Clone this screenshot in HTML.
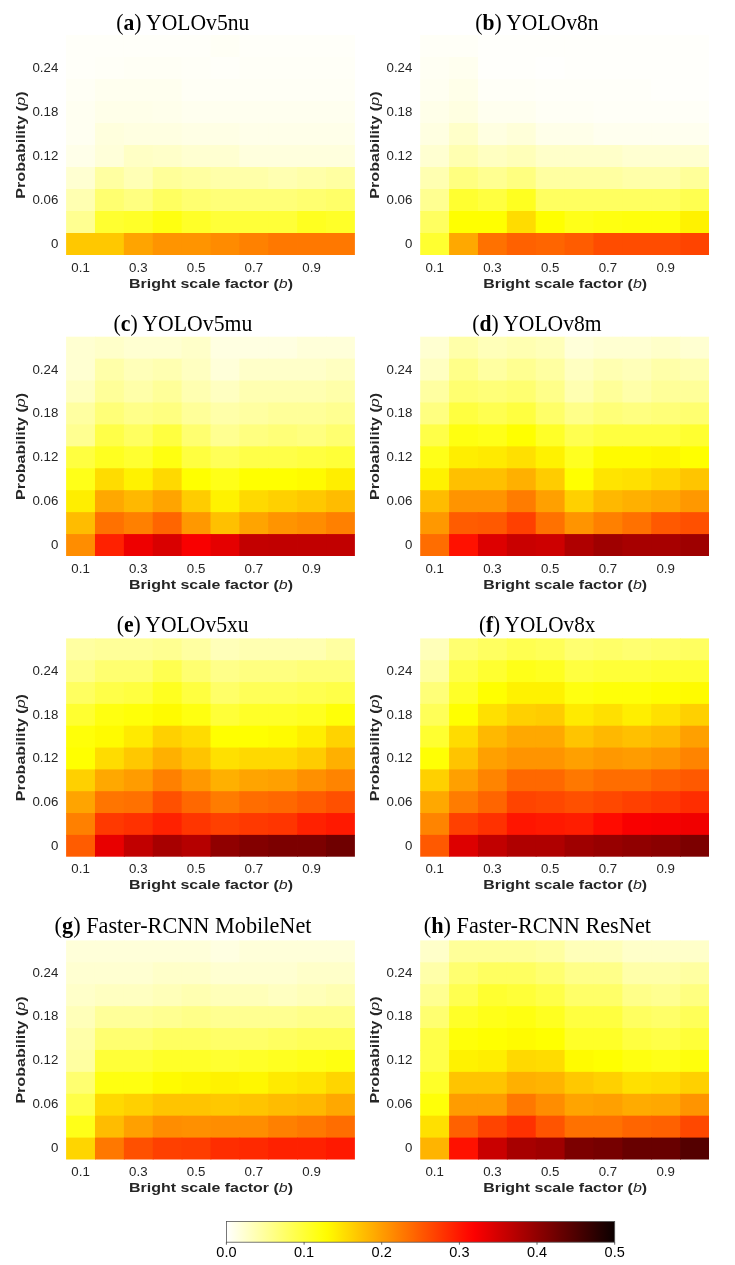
<!DOCTYPE html><html><head><meta charset="utf-8"><style>html,body{margin:0;padding:0;background:#fff;}svg{display:block;will-change:transform;}</style></head><body>
<svg width="735" height="1265" viewBox="0 0 735 1265">
<defs><linearGradient id="cb" x1="0" x2="1" y1="0" y2="0">
<stop offset="0.000" stop-color="#ffffff"/>
<stop offset="0.020" stop-color="#ffffeb"/>
<stop offset="0.040" stop-color="#ffffd7"/>
<stop offset="0.060" stop-color="#ffffc3"/>
<stop offset="0.080" stop-color="#ffffaf"/>
<stop offset="0.100" stop-color="#ffff9b"/>
<stop offset="0.120" stop-color="#ffff87"/>
<stop offset="0.140" stop-color="#ffff72"/>
<stop offset="0.160" stop-color="#ffff5e"/>
<stop offset="0.180" stop-color="#ffff4a"/>
<stop offset="0.200" stop-color="#ffff36"/>
<stop offset="0.220" stop-color="#ffff22"/>
<stop offset="0.240" stop-color="#ffff0e"/>
<stop offset="0.260" stop-color="#fffb00"/>
<stop offset="0.280" stop-color="#ffee00"/>
<stop offset="0.300" stop-color="#ffe000"/>
<stop offset="0.320" stop-color="#ffd300"/>
<stop offset="0.340" stop-color="#ffc500"/>
<stop offset="0.360" stop-color="#ffb800"/>
<stop offset="0.380" stop-color="#ffab00"/>
<stop offset="0.400" stop-color="#ff9d00"/>
<stop offset="0.420" stop-color="#ff9000"/>
<stop offset="0.440" stop-color="#ff8200"/>
<stop offset="0.460" stop-color="#ff7500"/>
<stop offset="0.480" stop-color="#ff6800"/>
<stop offset="0.500" stop-color="#ff5a00"/>
<stop offset="0.520" stop-color="#ff4d00"/>
<stop offset="0.540" stop-color="#ff4000"/>
<stop offset="0.560" stop-color="#ff3200"/>
<stop offset="0.580" stop-color="#ff2500"/>
<stop offset="0.600" stop-color="#ff1700"/>
<stop offset="0.620" stop-color="#ff0a00"/>
<stop offset="0.640" stop-color="#fc0000"/>
<stop offset="0.660" stop-color="#ee0000"/>
<stop offset="0.680" stop-color="#e10000"/>
<stop offset="0.700" stop-color="#d30000"/>
<stop offset="0.720" stop-color="#c60000"/>
<stop offset="0.740" stop-color="#b90000"/>
<stop offset="0.760" stop-color="#ab0000"/>
<stop offset="0.780" stop-color="#9e0000"/>
<stop offset="0.800" stop-color="#900000"/>
<stop offset="0.820" stop-color="#830000"/>
<stop offset="0.840" stop-color="#760000"/>
<stop offset="0.860" stop-color="#680000"/>
<stop offset="0.880" stop-color="#5b0000"/>
<stop offset="0.900" stop-color="#4e0000"/>
<stop offset="0.920" stop-color="#400000"/>
<stop offset="0.940" stop-color="#330000"/>
<stop offset="0.960" stop-color="#250000"/>
<stop offset="0.980" stop-color="#180000"/>
<stop offset="1.000" stop-color="#0b0000"/>
</linearGradient></defs>
<rect width="735" height="1265" fill="#fff"/>
<g>
<rect x="66.10" y="35.00" width="29.68" height="22.80" fill="#fffff9"/>
<rect x="94.98" y="35.00" width="29.68" height="22.80" fill="#fffff9"/>
<rect x="123.86" y="35.00" width="29.68" height="22.80" fill="#fffff9"/>
<rect x="152.74" y="35.00" width="29.68" height="22.80" fill="#fffff9"/>
<rect x="181.62" y="35.00" width="29.68" height="22.80" fill="#fffff9"/>
<rect x="210.50" y="35.00" width="29.68" height="22.80" fill="#fffff5"/>
<rect x="239.38" y="35.00" width="29.68" height="22.80" fill="#fffff9"/>
<rect x="268.26" y="35.00" width="29.68" height="22.80" fill="#fffff9"/>
<rect x="297.14" y="35.00" width="29.68" height="22.80" fill="#fffff9"/>
<rect x="326.02" y="35.00" width="28.88" height="22.80" fill="#fffff9"/>
<rect x="66.10" y="57.00" width="29.68" height="22.80" fill="#fffff9"/>
<rect x="94.98" y="57.00" width="29.68" height="22.80" fill="#fffff7"/>
<rect x="123.86" y="57.00" width="29.68" height="22.80" fill="#fffff5"/>
<rect x="152.74" y="57.00" width="29.68" height="22.80" fill="#fffff5"/>
<rect x="181.62" y="57.00" width="29.68" height="22.80" fill="#fffff7"/>
<rect x="210.50" y="57.00" width="29.68" height="22.80" fill="#fffff9"/>
<rect x="239.38" y="57.00" width="29.68" height="22.80" fill="#fffff7"/>
<rect x="268.26" y="57.00" width="29.68" height="22.80" fill="#fffff7"/>
<rect x="297.14" y="57.00" width="29.68" height="22.80" fill="#fffff7"/>
<rect x="326.02" y="57.00" width="28.88" height="22.80" fill="#fffff7"/>
<rect x="66.10" y="79.00" width="29.68" height="22.80" fill="#fffff5"/>
<rect x="94.98" y="79.00" width="29.68" height="22.80" fill="#ffffef"/>
<rect x="123.86" y="79.00" width="29.68" height="22.80" fill="#ffffef"/>
<rect x="152.74" y="79.00" width="29.68" height="22.80" fill="#ffffef"/>
<rect x="181.62" y="79.00" width="29.68" height="22.80" fill="#fffff5"/>
<rect x="210.50" y="79.00" width="29.68" height="22.80" fill="#fffff5"/>
<rect x="239.38" y="79.00" width="29.68" height="22.80" fill="#fffff5"/>
<rect x="268.26" y="79.00" width="29.68" height="22.80" fill="#fffff5"/>
<rect x="297.14" y="79.00" width="29.68" height="22.80" fill="#fffff5"/>
<rect x="326.02" y="79.00" width="28.88" height="22.80" fill="#fffff5"/>
<rect x="66.10" y="101.00" width="29.68" height="22.80" fill="#fffff1"/>
<rect x="94.98" y="101.00" width="29.68" height="22.80" fill="#ffffe9"/>
<rect x="123.86" y="101.00" width="29.68" height="22.80" fill="#ffffe9"/>
<rect x="152.74" y="101.00" width="29.68" height="22.80" fill="#ffffeb"/>
<rect x="181.62" y="101.00" width="29.68" height="22.80" fill="#ffffef"/>
<rect x="210.50" y="101.00" width="29.68" height="22.80" fill="#ffffef"/>
<rect x="239.38" y="101.00" width="29.68" height="22.80" fill="#ffffef"/>
<rect x="268.26" y="101.00" width="29.68" height="22.80" fill="#ffffef"/>
<rect x="297.14" y="101.00" width="29.68" height="22.80" fill="#ffffef"/>
<rect x="326.02" y="101.00" width="28.88" height="22.80" fill="#ffffef"/>
<rect x="66.10" y="123.00" width="29.68" height="22.80" fill="#fffff1"/>
<rect x="94.98" y="123.00" width="29.68" height="22.80" fill="#ffffdd"/>
<rect x="123.86" y="123.00" width="29.68" height="22.80" fill="#ffffe1"/>
<rect x="152.74" y="123.00" width="29.68" height="22.80" fill="#ffffe1"/>
<rect x="181.62" y="123.00" width="29.68" height="22.80" fill="#ffffe5"/>
<rect x="210.50" y="123.00" width="29.68" height="22.80" fill="#ffffe5"/>
<rect x="239.38" y="123.00" width="29.68" height="22.80" fill="#ffffe9"/>
<rect x="268.26" y="123.00" width="29.68" height="22.80" fill="#ffffe9"/>
<rect x="297.14" y="123.00" width="29.68" height="22.80" fill="#ffffe9"/>
<rect x="326.02" y="123.00" width="28.88" height="22.80" fill="#ffffe9"/>
<rect x="66.10" y="145.00" width="29.68" height="22.80" fill="#ffffe9"/>
<rect x="94.98" y="145.00" width="29.68" height="22.80" fill="#ffffd9"/>
<rect x="123.86" y="145.00" width="29.68" height="22.80" fill="#ffffc5"/>
<rect x="152.74" y="145.00" width="29.68" height="22.80" fill="#ffffc9"/>
<rect x="181.62" y="145.00" width="29.68" height="22.80" fill="#ffffd1"/>
<rect x="210.50" y="145.00" width="29.68" height="22.80" fill="#ffffd1"/>
<rect x="239.38" y="145.00" width="29.68" height="22.80" fill="#ffffdd"/>
<rect x="268.26" y="145.00" width="29.68" height="22.80" fill="#ffffdd"/>
<rect x="297.14" y="145.00" width="29.68" height="22.80" fill="#ffffdd"/>
<rect x="326.02" y="145.00" width="28.88" height="22.80" fill="#ffffdd"/>
<rect x="66.10" y="167.00" width="29.68" height="22.80" fill="#ffffd1"/>
<rect x="94.98" y="167.00" width="29.68" height="22.80" fill="#ffffa1"/>
<rect x="123.86" y="167.00" width="29.68" height="22.80" fill="#ffffb5"/>
<rect x="152.74" y="167.00" width="29.68" height="22.80" fill="#ffff99"/>
<rect x="181.62" y="167.00" width="29.68" height="22.80" fill="#ffffa1"/>
<rect x="210.50" y="167.00" width="29.68" height="22.80" fill="#ffffa9"/>
<rect x="239.38" y="167.00" width="29.68" height="22.80" fill="#ffffa9"/>
<rect x="268.26" y="167.00" width="29.68" height="22.80" fill="#ffffb1"/>
<rect x="297.14" y="167.00" width="29.68" height="22.80" fill="#ffffa9"/>
<rect x="326.02" y="167.00" width="28.88" height="22.80" fill="#ffffa1"/>
<rect x="66.10" y="189.00" width="29.68" height="22.80" fill="#ffffb1"/>
<rect x="94.98" y="189.00" width="29.68" height="22.80" fill="#ffff70"/>
<rect x="123.86" y="189.00" width="29.68" height="22.80" fill="#ffff80"/>
<rect x="152.74" y="189.00" width="29.68" height="22.80" fill="#ffff60"/>
<rect x="181.62" y="189.00" width="29.68" height="22.80" fill="#ffff70"/>
<rect x="210.50" y="189.00" width="29.68" height="22.80" fill="#ffff78"/>
<rect x="239.38" y="189.00" width="29.68" height="22.80" fill="#ffff78"/>
<rect x="268.26" y="189.00" width="29.68" height="22.80" fill="#ffff78"/>
<rect x="297.14" y="189.00" width="29.68" height="22.80" fill="#ffff70"/>
<rect x="326.02" y="189.00" width="28.88" height="22.80" fill="#ffff68"/>
<rect x="66.10" y="211.00" width="29.68" height="22.80" fill="#ffff91"/>
<rect x="94.98" y="211.00" width="29.68" height="22.80" fill="#ffff30"/>
<rect x="123.86" y="211.00" width="29.68" height="22.80" fill="#ffff28"/>
<rect x="152.74" y="211.00" width="29.68" height="22.80" fill="#ffff10"/>
<rect x="181.62" y="211.00" width="29.68" height="22.80" fill="#ffff28"/>
<rect x="210.50" y="211.00" width="29.68" height="22.80" fill="#ffff38"/>
<rect x="239.38" y="211.00" width="29.68" height="22.80" fill="#ffff38"/>
<rect x="268.26" y="211.00" width="29.68" height="22.80" fill="#ffff38"/>
<rect x="297.14" y="211.00" width="29.68" height="22.80" fill="#ffff20"/>
<rect x="326.02" y="211.00" width="28.88" height="22.80" fill="#ffff28"/>
<rect x="66.10" y="233.00" width="29.68" height="22.00" fill="#ffc800"/>
<rect x="94.98" y="233.00" width="29.68" height="22.00" fill="#ffc800"/>
<rect x="123.86" y="233.00" width="29.68" height="22.00" fill="#ffa400"/>
<rect x="152.74" y="233.00" width="29.68" height="22.00" fill="#ff9400"/>
<rect x="181.62" y="233.00" width="29.68" height="22.00" fill="#ff9400"/>
<rect x="210.50" y="233.00" width="29.68" height="22.00" fill="#ff8b00"/>
<rect x="239.38" y="233.00" width="29.68" height="22.00" fill="#ff8100"/>
<rect x="268.26" y="233.00" width="29.68" height="22.00" fill="#ff7800"/>
<rect x="297.14" y="233.00" width="29.68" height="22.00" fill="#ff7800"/>
<rect x="326.02" y="233.00" width="28.88" height="22.00" fill="#ff7800"/>
</g>
<text transform="translate(32.45,72.00) scale(1.0217,1.0000)" font-size="13.00" fill="#262626"><tspan font-family="Liberation Sans, sans-serif">0.24</tspan></text>
<text transform="translate(32.45,116.00) scale(1.0217,1.0000)" font-size="13.00" fill="#262626"><tspan font-family="Liberation Sans, sans-serif">0.18</tspan></text>
<text transform="translate(32.45,160.00) scale(1.0217,1.0000)" font-size="13.00" fill="#262626"><tspan font-family="Liberation Sans, sans-serif">0.12</tspan></text>
<text transform="translate(32.45,204.00) scale(1.0217,1.0000)" font-size="13.00" fill="#262626"><tspan font-family="Liberation Sans, sans-serif">0.06</tspan></text>
<text transform="translate(50.90,248.00) scale(1.0207,1.0000)" font-size="13.00" fill="#262626"><tspan font-family="Liberation Sans, sans-serif">0</tspan></text>
<text transform="translate(71.31,271.70) scale(1.0222,1.0000)" font-size="13.00" fill="#262626"><tspan font-family="Liberation Sans, sans-serif">0.1</tspan></text>
<text transform="translate(129.08,271.70) scale(1.0222,1.0000)" font-size="13.00" fill="#262626"><tspan font-family="Liberation Sans, sans-serif">0.3</tspan></text>
<text transform="translate(186.84,271.70) scale(1.0222,1.0000)" font-size="13.00" fill="#262626"><tspan font-family="Liberation Sans, sans-serif">0.5</tspan></text>
<text transform="translate(244.60,271.70) scale(1.0222,1.0000)" font-size="13.00" fill="#262626"><tspan font-family="Liberation Sans, sans-serif">0.7</tspan></text>
<text transform="translate(302.36,271.70) scale(1.0222,1.0000)" font-size="13.00" fill="#262626"><tspan font-family="Liberation Sans, sans-serif">0.9</tspan></text>
<text transform="translate(129.10,287.60) scale(1.1728,1.0000)" font-size="13.60" fill="#262626"><tspan font-family="Liberation Sans, sans-serif" font-weight="bold">Bright scale factor (</tspan><tspan font-family="Liberation Sans, sans-serif" font-style="italic">b</tspan><tspan font-family="Liberation Sans, sans-serif" font-weight="bold">)</tspan></text>
<text transform="translate(25.00,198.65) rotate(-90) scale(1.1830,1.0000)" font-size="13.60" fill="#262626"><tspan font-family="Liberation Sans, sans-serif" font-weight="bold">Probability (</tspan><tspan font-family="Liberation Sans, sans-serif" font-style="italic">p</tspan><tspan font-family="Liberation Sans, sans-serif" font-weight="bold">)</tspan></text>
<text transform="translate(116.20,29.90) scale(0.9836,1.0500)" font-size="22.00" fill="#000"><tspan font-family="Liberation Serif, serif">(</tspan><tspan font-family="Liberation Serif, serif" font-weight="bold">a</tspan><tspan font-family="Liberation Serif, serif">) YOLOv5nu</tspan></text>
<g>
<rect x="420.20" y="35.00" width="29.68" height="22.80" fill="#fffff7"/>
<rect x="449.08" y="35.00" width="29.68" height="22.80" fill="#fffff7"/>
<rect x="477.96" y="35.00" width="29.68" height="22.80" fill="#fffffb"/>
<rect x="506.84" y="35.00" width="29.68" height="22.80" fill="#fffffb"/>
<rect x="535.72" y="35.00" width="29.68" height="22.80" fill="#fffffb"/>
<rect x="564.60" y="35.00" width="29.68" height="22.80" fill="#fffffb"/>
<rect x="593.48" y="35.00" width="29.68" height="22.80" fill="#fffffb"/>
<rect x="622.36" y="35.00" width="29.68" height="22.80" fill="#fffffb"/>
<rect x="651.24" y="35.00" width="29.68" height="22.80" fill="#fffffb"/>
<rect x="680.12" y="35.00" width="28.88" height="22.80" fill="#fffffb"/>
<rect x="420.20" y="57.00" width="29.68" height="22.80" fill="#fffff3"/>
<rect x="449.08" y="57.00" width="29.68" height="22.80" fill="#ffffef"/>
<rect x="477.96" y="57.00" width="29.68" height="22.80" fill="#fffffb"/>
<rect x="506.84" y="57.00" width="29.68" height="22.80" fill="#fffffb"/>
<rect x="535.72" y="57.00" width="29.68" height="22.80" fill="#fffffd"/>
<rect x="564.60" y="57.00" width="29.68" height="22.80" fill="#fffffb"/>
<rect x="593.48" y="57.00" width="29.68" height="22.80" fill="#fffffb"/>
<rect x="622.36" y="57.00" width="29.68" height="22.80" fill="#fffffb"/>
<rect x="651.24" y="57.00" width="29.68" height="22.80" fill="#fffffb"/>
<rect x="680.12" y="57.00" width="28.88" height="22.80" fill="#fffffb"/>
<rect x="420.20" y="79.00" width="29.68" height="22.80" fill="#fffff1"/>
<rect x="449.08" y="79.00" width="29.68" height="22.80" fill="#ffffe9"/>
<rect x="477.96" y="79.00" width="29.68" height="22.80" fill="#fffff7"/>
<rect x="506.84" y="79.00" width="29.68" height="22.80" fill="#fffff7"/>
<rect x="535.72" y="79.00" width="29.68" height="22.80" fill="#fffff9"/>
<rect x="564.60" y="79.00" width="29.68" height="22.80" fill="#fffff9"/>
<rect x="593.48" y="79.00" width="29.68" height="22.80" fill="#fffff9"/>
<rect x="622.36" y="79.00" width="29.68" height="22.80" fill="#fffff9"/>
<rect x="651.24" y="79.00" width="29.68" height="22.80" fill="#fffffb"/>
<rect x="680.12" y="79.00" width="28.88" height="22.80" fill="#fffffb"/>
<rect x="420.20" y="101.00" width="29.68" height="22.80" fill="#ffffe9"/>
<rect x="449.08" y="101.00" width="29.68" height="22.80" fill="#ffffe1"/>
<rect x="477.96" y="101.00" width="29.68" height="22.80" fill="#ffffef"/>
<rect x="506.84" y="101.00" width="29.68" height="22.80" fill="#ffffef"/>
<rect x="535.72" y="101.00" width="29.68" height="22.80" fill="#fffff5"/>
<rect x="564.60" y="101.00" width="29.68" height="22.80" fill="#fffff5"/>
<rect x="593.48" y="101.00" width="29.68" height="22.80" fill="#fffff7"/>
<rect x="622.36" y="101.00" width="29.68" height="22.80" fill="#fffff7"/>
<rect x="651.24" y="101.00" width="29.68" height="22.80" fill="#fffff7"/>
<rect x="680.12" y="101.00" width="28.88" height="22.80" fill="#fffff7"/>
<rect x="420.20" y="123.00" width="29.68" height="22.80" fill="#ffffe1"/>
<rect x="449.08" y="123.00" width="29.68" height="22.80" fill="#ffffc9"/>
<rect x="477.96" y="123.00" width="29.68" height="22.80" fill="#ffffe1"/>
<rect x="506.84" y="123.00" width="29.68" height="22.80" fill="#ffffd9"/>
<rect x="535.72" y="123.00" width="29.68" height="22.80" fill="#ffffe9"/>
<rect x="564.60" y="123.00" width="29.68" height="22.80" fill="#ffffe9"/>
<rect x="593.48" y="123.00" width="29.68" height="22.80" fill="#ffffef"/>
<rect x="622.36" y="123.00" width="29.68" height="22.80" fill="#ffffef"/>
<rect x="651.24" y="123.00" width="29.68" height="22.80" fill="#ffffef"/>
<rect x="680.12" y="123.00" width="28.88" height="22.80" fill="#ffffef"/>
<rect x="420.20" y="145.00" width="29.68" height="22.80" fill="#ffffd1"/>
<rect x="449.08" y="145.00" width="29.68" height="22.80" fill="#ffffb1"/>
<rect x="477.96" y="145.00" width="29.68" height="22.80" fill="#ffffc1"/>
<rect x="506.84" y="145.00" width="29.68" height="22.80" fill="#ffffb9"/>
<rect x="535.72" y="145.00" width="29.68" height="22.80" fill="#ffffc9"/>
<rect x="564.60" y="145.00" width="29.68" height="22.80" fill="#ffffc9"/>
<rect x="593.48" y="145.00" width="29.68" height="22.80" fill="#ffffc9"/>
<rect x="622.36" y="145.00" width="29.68" height="22.80" fill="#ffffd1"/>
<rect x="651.24" y="145.00" width="29.68" height="22.80" fill="#ffffd1"/>
<rect x="680.12" y="145.00" width="28.88" height="22.80" fill="#ffffd1"/>
<rect x="420.20" y="167.00" width="29.68" height="22.80" fill="#ffffb1"/>
<rect x="449.08" y="167.00" width="29.68" height="22.80" fill="#ffff80"/>
<rect x="477.96" y="167.00" width="29.68" height="22.80" fill="#ffff91"/>
<rect x="506.84" y="167.00" width="29.68" height="22.80" fill="#ffff80"/>
<rect x="535.72" y="167.00" width="29.68" height="22.80" fill="#ffffa1"/>
<rect x="564.60" y="167.00" width="29.68" height="22.80" fill="#ffffa1"/>
<rect x="593.48" y="167.00" width="29.68" height="22.80" fill="#ffffa1"/>
<rect x="622.36" y="167.00" width="29.68" height="22.80" fill="#ffffa9"/>
<rect x="651.24" y="167.00" width="29.68" height="22.80" fill="#ffffa9"/>
<rect x="680.12" y="167.00" width="28.88" height="22.80" fill="#ffff99"/>
<rect x="420.20" y="189.00" width="29.68" height="22.80" fill="#ffff91"/>
<rect x="449.08" y="189.00" width="29.68" height="22.80" fill="#ffff30"/>
<rect x="477.96" y="189.00" width="29.68" height="22.80" fill="#ffff40"/>
<rect x="506.84" y="189.00" width="29.68" height="22.80" fill="#ffff20"/>
<rect x="535.72" y="189.00" width="29.68" height="22.80" fill="#ffff60"/>
<rect x="564.60" y="189.00" width="29.68" height="22.80" fill="#ffff60"/>
<rect x="593.48" y="189.00" width="29.68" height="22.80" fill="#ffff60"/>
<rect x="622.36" y="189.00" width="29.68" height="22.80" fill="#ffff60"/>
<rect x="651.24" y="189.00" width="29.68" height="22.80" fill="#ffff60"/>
<rect x="680.12" y="189.00" width="28.88" height="22.80" fill="#ffff50"/>
<rect x="420.20" y="211.00" width="29.68" height="22.80" fill="#ffff60"/>
<rect x="449.08" y="211.00" width="29.68" height="22.80" fill="#ffff00"/>
<rect x="477.96" y="211.00" width="29.68" height="22.80" fill="#ffff00"/>
<rect x="506.84" y="211.00" width="29.68" height="22.80" fill="#ffdc00"/>
<rect x="535.72" y="211.00" width="29.68" height="22.80" fill="#ffff00"/>
<rect x="564.60" y="211.00" width="29.68" height="22.80" fill="#ffff18"/>
<rect x="593.48" y="211.00" width="29.68" height="22.80" fill="#ffff10"/>
<rect x="622.36" y="211.00" width="29.68" height="22.80" fill="#ffff0c"/>
<rect x="651.24" y="211.00" width="29.68" height="22.80" fill="#ffff0c"/>
<rect x="680.12" y="211.00" width="28.88" height="22.80" fill="#fff200"/>
<rect x="420.20" y="233.00" width="29.68" height="22.00" fill="#ffff30"/>
<rect x="449.08" y="233.00" width="29.68" height="22.00" fill="#ffa800"/>
<rect x="477.96" y="233.00" width="29.68" height="22.00" fill="#ff7100"/>
<rect x="506.84" y="233.00" width="29.68" height="22.00" fill="#ff6100"/>
<rect x="535.72" y="233.00" width="29.68" height="22.00" fill="#ff6500"/>
<rect x="564.60" y="233.00" width="29.68" height="22.00" fill="#ff5c00"/>
<rect x="593.48" y="233.00" width="29.68" height="22.00" fill="#ff4c00"/>
<rect x="622.36" y="233.00" width="29.68" height="22.00" fill="#ff4c00"/>
<rect x="651.24" y="233.00" width="29.68" height="22.00" fill="#ff4c00"/>
<rect x="680.12" y="233.00" width="28.88" height="22.00" fill="#ff4400"/>
</g>
<text transform="translate(386.55,72.00) scale(1.0217,1.0000)" font-size="13.00" fill="#262626"><tspan font-family="Liberation Sans, sans-serif">0.24</tspan></text>
<text transform="translate(386.55,116.00) scale(1.0217,1.0000)" font-size="13.00" fill="#262626"><tspan font-family="Liberation Sans, sans-serif">0.18</tspan></text>
<text transform="translate(386.55,160.00) scale(1.0217,1.0000)" font-size="13.00" fill="#262626"><tspan font-family="Liberation Sans, sans-serif">0.12</tspan></text>
<text transform="translate(386.55,204.00) scale(1.0217,1.0000)" font-size="13.00" fill="#262626"><tspan font-family="Liberation Sans, sans-serif">0.06</tspan></text>
<text transform="translate(405.00,248.00) scale(1.0207,1.0000)" font-size="13.00" fill="#262626"><tspan font-family="Liberation Sans, sans-serif">0</tspan></text>
<text transform="translate(425.41,271.70) scale(1.0222,1.0000)" font-size="13.00" fill="#262626"><tspan font-family="Liberation Sans, sans-serif">0.1</tspan></text>
<text transform="translate(483.17,271.70) scale(1.0222,1.0000)" font-size="13.00" fill="#262626"><tspan font-family="Liberation Sans, sans-serif">0.3</tspan></text>
<text transform="translate(540.93,271.70) scale(1.0222,1.0000)" font-size="13.00" fill="#262626"><tspan font-family="Liberation Sans, sans-serif">0.5</tspan></text>
<text transform="translate(598.70,271.70) scale(1.0222,1.0000)" font-size="13.00" fill="#262626"><tspan font-family="Liberation Sans, sans-serif">0.7</tspan></text>
<text transform="translate(656.46,271.70) scale(1.0222,1.0000)" font-size="13.00" fill="#262626"><tspan font-family="Liberation Sans, sans-serif">0.9</tspan></text>
<text transform="translate(483.20,287.60) scale(1.1728,1.0000)" font-size="13.60" fill="#262626"><tspan font-family="Liberation Sans, sans-serif" font-weight="bold">Bright scale factor (</tspan><tspan font-family="Liberation Sans, sans-serif" font-style="italic">b</tspan><tspan font-family="Liberation Sans, sans-serif" font-weight="bold">)</tspan></text>
<text transform="translate(379.10,198.65) rotate(-90) scale(1.1830,1.0000)" font-size="13.60" fill="#262626"><tspan font-family="Liberation Sans, sans-serif" font-weight="bold">Probability (</tspan><tspan font-family="Liberation Sans, sans-serif" font-style="italic">p</tspan><tspan font-family="Liberation Sans, sans-serif" font-weight="bold">)</tspan></text>
<text transform="translate(475.20,29.90) scale(0.9820,1.0500)" font-size="22.00" fill="#000"><tspan font-family="Liberation Serif, serif">(</tspan><tspan font-family="Liberation Serif, serif" font-weight="bold">b</tspan><tspan font-family="Liberation Serif, serif">) YOLOv8n</tspan></text>
<g>
<rect x="66.10" y="336.70" width="29.68" height="22.73" fill="#ffffd1"/>
<rect x="94.98" y="336.70" width="29.68" height="22.73" fill="#ffffc9"/>
<rect x="123.86" y="336.70" width="29.68" height="22.73" fill="#ffffd1"/>
<rect x="152.74" y="336.70" width="29.68" height="22.73" fill="#ffffd1"/>
<rect x="181.62" y="336.70" width="29.68" height="22.73" fill="#ffffc9"/>
<rect x="210.50" y="336.70" width="29.68" height="22.73" fill="#ffffe1"/>
<rect x="239.38" y="336.70" width="29.68" height="22.73" fill="#ffffe1"/>
<rect x="268.26" y="336.70" width="29.68" height="22.73" fill="#ffffe1"/>
<rect x="297.14" y="336.70" width="29.68" height="22.73" fill="#ffffd9"/>
<rect x="326.02" y="336.70" width="28.88" height="22.73" fill="#ffffd9"/>
<rect x="66.10" y="358.63" width="29.68" height="22.73" fill="#ffffd1"/>
<rect x="94.98" y="358.63" width="29.68" height="22.73" fill="#ffffa9"/>
<rect x="123.86" y="358.63" width="29.68" height="22.73" fill="#ffffb9"/>
<rect x="152.74" y="358.63" width="29.68" height="22.73" fill="#ffffb1"/>
<rect x="181.62" y="358.63" width="29.68" height="22.73" fill="#ffffc1"/>
<rect x="210.50" y="358.63" width="29.68" height="22.73" fill="#ffffd9"/>
<rect x="239.38" y="358.63" width="29.68" height="22.73" fill="#ffffc9"/>
<rect x="268.26" y="358.63" width="29.68" height="22.73" fill="#ffffc9"/>
<rect x="297.14" y="358.63" width="29.68" height="22.73" fill="#ffffc9"/>
<rect x="326.02" y="358.63" width="28.88" height="22.73" fill="#ffffc1"/>
<rect x="66.10" y="380.56" width="29.68" height="22.73" fill="#ffffc1"/>
<rect x="94.98" y="380.56" width="29.68" height="22.73" fill="#ffff99"/>
<rect x="123.86" y="380.56" width="29.68" height="22.73" fill="#ffffa9"/>
<rect x="152.74" y="380.56" width="29.68" height="22.73" fill="#ffff99"/>
<rect x="181.62" y="380.56" width="29.68" height="22.73" fill="#ffffb1"/>
<rect x="210.50" y="380.56" width="29.68" height="22.73" fill="#ffffc1"/>
<rect x="239.38" y="380.56" width="29.68" height="22.73" fill="#ffffb1"/>
<rect x="268.26" y="380.56" width="29.68" height="22.73" fill="#ffffb1"/>
<rect x="297.14" y="380.56" width="29.68" height="22.73" fill="#ffffb1"/>
<rect x="326.02" y="380.56" width="28.88" height="22.73" fill="#ffffa9"/>
<rect x="66.10" y="402.49" width="29.68" height="22.73" fill="#ffffa1"/>
<rect x="94.98" y="402.49" width="29.68" height="22.73" fill="#ffff78"/>
<rect x="123.86" y="402.49" width="29.68" height="22.73" fill="#ffff89"/>
<rect x="152.74" y="402.49" width="29.68" height="22.73" fill="#ffff80"/>
<rect x="181.62" y="402.49" width="29.68" height="22.73" fill="#ffff99"/>
<rect x="210.50" y="402.49" width="29.68" height="22.73" fill="#ffffa9"/>
<rect x="239.38" y="402.49" width="29.68" height="22.73" fill="#ffffa1"/>
<rect x="268.26" y="402.49" width="29.68" height="22.73" fill="#ffff99"/>
<rect x="297.14" y="402.49" width="29.68" height="22.73" fill="#ffff99"/>
<rect x="326.02" y="402.49" width="28.88" height="22.73" fill="#ffff91"/>
<rect x="66.10" y="424.42" width="29.68" height="22.73" fill="#ffff91"/>
<rect x="94.98" y="424.42" width="29.68" height="22.73" fill="#ffff48"/>
<rect x="123.86" y="424.42" width="29.68" height="22.73" fill="#ffff60"/>
<rect x="152.74" y="424.42" width="29.68" height="22.73" fill="#ffff40"/>
<rect x="181.62" y="424.42" width="29.68" height="22.73" fill="#ffff70"/>
<rect x="210.50" y="424.42" width="29.68" height="22.73" fill="#ffff91"/>
<rect x="239.38" y="424.42" width="29.68" height="22.73" fill="#ffff80"/>
<rect x="268.26" y="424.42" width="29.68" height="22.73" fill="#ffff78"/>
<rect x="297.14" y="424.42" width="29.68" height="22.73" fill="#ffff80"/>
<rect x="326.02" y="424.42" width="28.88" height="22.73" fill="#ffff70"/>
<rect x="66.10" y="446.35" width="29.68" height="22.73" fill="#ffff40"/>
<rect x="94.98" y="446.35" width="29.68" height="22.73" fill="#ffff20"/>
<rect x="123.86" y="446.35" width="29.68" height="22.73" fill="#ffff30"/>
<rect x="152.74" y="446.35" width="29.68" height="22.73" fill="#ffff10"/>
<rect x="181.62" y="446.35" width="29.68" height="22.73" fill="#ffff40"/>
<rect x="210.50" y="446.35" width="29.68" height="22.73" fill="#ffff58"/>
<rect x="239.38" y="446.35" width="29.68" height="22.73" fill="#ffff48"/>
<rect x="268.26" y="446.35" width="29.68" height="22.73" fill="#ffff48"/>
<rect x="297.14" y="446.35" width="29.68" height="22.73" fill="#ffff40"/>
<rect x="326.02" y="446.35" width="28.88" height="22.73" fill="#ffff38"/>
<rect x="66.10" y="468.28" width="29.68" height="22.73" fill="#ffff18"/>
<rect x="94.98" y="468.28" width="29.68" height="22.73" fill="#ffdc00"/>
<rect x="123.86" y="468.28" width="29.68" height="22.73" fill="#fff200"/>
<rect x="152.74" y="468.28" width="29.68" height="22.73" fill="#ffd900"/>
<rect x="181.62" y="468.28" width="29.68" height="22.73" fill="#ffff00"/>
<rect x="210.50" y="468.28" width="29.68" height="22.73" fill="#ffff18"/>
<rect x="239.38" y="468.28" width="29.68" height="22.73" fill="#ffff00"/>
<rect x="268.26" y="468.28" width="29.68" height="22.73" fill="#ffff00"/>
<rect x="297.14" y="468.28" width="29.68" height="22.73" fill="#fffb00"/>
<rect x="326.02" y="468.28" width="28.88" height="22.73" fill="#ffee00"/>
<rect x="66.10" y="490.21" width="29.68" height="22.73" fill="#ffee00"/>
<rect x="94.98" y="490.21" width="29.68" height="22.73" fill="#ffa800"/>
<rect x="123.86" y="490.21" width="29.68" height="22.73" fill="#ffb800"/>
<rect x="152.74" y="490.21" width="29.68" height="22.73" fill="#ffa400"/>
<rect x="181.62" y="490.21" width="29.68" height="22.73" fill="#ffcc00"/>
<rect x="210.50" y="490.21" width="29.68" height="22.73" fill="#fff200"/>
<rect x="239.38" y="490.21" width="29.68" height="22.73" fill="#ffd900"/>
<rect x="268.26" y="490.21" width="29.68" height="22.73" fill="#ffd000"/>
<rect x="297.14" y="490.21" width="29.68" height="22.73" fill="#ffc800"/>
<rect x="326.02" y="490.21" width="28.88" height="22.73" fill="#ffbc00"/>
<rect x="66.10" y="512.14" width="29.68" height="22.73" fill="#ffbc00"/>
<rect x="94.98" y="512.14" width="29.68" height="22.73" fill="#ff7100"/>
<rect x="123.86" y="512.14" width="29.68" height="22.73" fill="#ff8000"/>
<rect x="152.74" y="512.14" width="29.68" height="22.73" fill="#ff6500"/>
<rect x="181.62" y="512.14" width="29.68" height="22.73" fill="#ff9800"/>
<rect x="210.50" y="512.14" width="29.68" height="22.73" fill="#ffc000"/>
<rect x="239.38" y="512.14" width="29.68" height="22.73" fill="#ffa400"/>
<rect x="268.26" y="512.14" width="29.68" height="22.73" fill="#ff9400"/>
<rect x="297.14" y="512.14" width="29.68" height="22.73" fill="#ff8d00"/>
<rect x="326.02" y="512.14" width="28.88" height="22.73" fill="#ff8000"/>
<rect x="66.10" y="534.07" width="29.68" height="21.93" fill="#ff8d00"/>
<rect x="94.98" y="534.07" width="29.68" height="21.93" fill="#ff2100"/>
<rect x="123.86" y="534.07" width="29.68" height="21.93" fill="#ee0000"/>
<rect x="152.74" y="534.07" width="29.68" height="21.93" fill="#d90000"/>
<rect x="181.62" y="534.07" width="29.68" height="21.93" fill="#f90000"/>
<rect x="210.50" y="534.07" width="29.68" height="21.93" fill="#e50000"/>
<rect x="239.38" y="534.07" width="29.68" height="21.93" fill="#c30000"/>
<rect x="268.26" y="534.07" width="29.68" height="21.93" fill="#c10000"/>
<rect x="297.14" y="534.07" width="29.68" height="21.93" fill="#c10000"/>
<rect x="326.02" y="534.07" width="28.88" height="21.93" fill="#c10000"/>
</g>
<text transform="translate(32.45,373.59) scale(1.0217,1.0000)" font-size="13.00" fill="#262626"><tspan font-family="Liberation Sans, sans-serif">0.24</tspan></text>
<text transform="translate(32.45,417.45) scale(1.0217,1.0000)" font-size="13.00" fill="#262626"><tspan font-family="Liberation Sans, sans-serif">0.18</tspan></text>
<text transform="translate(32.45,461.31) scale(1.0217,1.0000)" font-size="13.00" fill="#262626"><tspan font-family="Liberation Sans, sans-serif">0.12</tspan></text>
<text transform="translate(32.45,505.17) scale(1.0217,1.0000)" font-size="13.00" fill="#262626"><tspan font-family="Liberation Sans, sans-serif">0.06</tspan></text>
<text transform="translate(50.90,549.03) scale(1.0207,1.0000)" font-size="13.00" fill="#262626"><tspan font-family="Liberation Sans, sans-serif">0</tspan></text>
<text transform="translate(71.31,572.70) scale(1.0222,1.0000)" font-size="13.00" fill="#262626"><tspan font-family="Liberation Sans, sans-serif">0.1</tspan></text>
<text transform="translate(129.08,572.70) scale(1.0222,1.0000)" font-size="13.00" fill="#262626"><tspan font-family="Liberation Sans, sans-serif">0.3</tspan></text>
<text transform="translate(186.84,572.70) scale(1.0222,1.0000)" font-size="13.00" fill="#262626"><tspan font-family="Liberation Sans, sans-serif">0.5</tspan></text>
<text transform="translate(244.60,572.70) scale(1.0222,1.0000)" font-size="13.00" fill="#262626"><tspan font-family="Liberation Sans, sans-serif">0.7</tspan></text>
<text transform="translate(302.36,572.70) scale(1.0222,1.0000)" font-size="13.00" fill="#262626"><tspan font-family="Liberation Sans, sans-serif">0.9</tspan></text>
<text transform="translate(129.10,588.60) scale(1.1728,1.0000)" font-size="13.60" fill="#262626"><tspan font-family="Liberation Sans, sans-serif" font-weight="bold">Bright scale factor (</tspan><tspan font-family="Liberation Sans, sans-serif" font-style="italic">b</tspan><tspan font-family="Liberation Sans, sans-serif" font-weight="bold">)</tspan></text>
<text transform="translate(25.00,500.00) rotate(-90) scale(1.1830,1.0000)" font-size="13.60" fill="#262626"><tspan font-family="Liberation Sans, sans-serif" font-weight="bold">Probability (</tspan><tspan font-family="Liberation Sans, sans-serif" font-style="italic">p</tspan><tspan font-family="Liberation Sans, sans-serif" font-weight="bold">)</tspan></text>
<text transform="translate(113.50,330.70) scale(0.9894,1.0500)" font-size="22.00" fill="#000"><tspan font-family="Liberation Serif, serif">(</tspan><tspan font-family="Liberation Serif, serif" font-weight="bold">c</tspan><tspan font-family="Liberation Serif, serif">) YOLOv5mu</tspan></text>
<g>
<rect x="420.20" y="336.70" width="29.68" height="22.73" fill="#ffffd1"/>
<rect x="449.08" y="336.70" width="29.68" height="22.73" fill="#ffffa9"/>
<rect x="477.96" y="336.70" width="29.68" height="22.73" fill="#ffffb9"/>
<rect x="506.84" y="336.70" width="29.68" height="22.73" fill="#ffffb1"/>
<rect x="535.72" y="336.70" width="29.68" height="22.73" fill="#ffffb9"/>
<rect x="564.60" y="336.70" width="29.68" height="22.73" fill="#ffffd9"/>
<rect x="593.48" y="336.70" width="29.68" height="22.73" fill="#ffffd1"/>
<rect x="622.36" y="336.70" width="29.68" height="22.73" fill="#ffffd1"/>
<rect x="651.24" y="336.70" width="29.68" height="22.73" fill="#ffffc9"/>
<rect x="680.12" y="336.70" width="28.88" height="22.73" fill="#ffffd1"/>
<rect x="420.20" y="358.63" width="29.68" height="22.73" fill="#ffffc1"/>
<rect x="449.08" y="358.63" width="29.68" height="22.73" fill="#ffff89"/>
<rect x="477.96" y="358.63" width="29.68" height="22.73" fill="#ffffa1"/>
<rect x="506.84" y="358.63" width="29.68" height="22.73" fill="#ffff91"/>
<rect x="535.72" y="358.63" width="29.68" height="22.73" fill="#ffffa1"/>
<rect x="564.60" y="358.63" width="29.68" height="22.73" fill="#ffffc1"/>
<rect x="593.48" y="358.63" width="29.68" height="22.73" fill="#ffffb1"/>
<rect x="622.36" y="358.63" width="29.68" height="22.73" fill="#ffffb9"/>
<rect x="651.24" y="358.63" width="29.68" height="22.73" fill="#ffffa9"/>
<rect x="680.12" y="358.63" width="28.88" height="22.73" fill="#ffffb1"/>
<rect x="420.20" y="380.56" width="29.68" height="22.73" fill="#ffffa1"/>
<rect x="449.08" y="380.56" width="29.68" height="22.73" fill="#ffff70"/>
<rect x="477.96" y="380.56" width="29.68" height="22.73" fill="#ffff78"/>
<rect x="506.84" y="380.56" width="29.68" height="22.73" fill="#ffff70"/>
<rect x="535.72" y="380.56" width="29.68" height="22.73" fill="#ffff89"/>
<rect x="564.60" y="380.56" width="29.68" height="22.73" fill="#ffffb1"/>
<rect x="593.48" y="380.56" width="29.68" height="22.73" fill="#ffff99"/>
<rect x="622.36" y="380.56" width="29.68" height="22.73" fill="#ffffa9"/>
<rect x="651.24" y="380.56" width="29.68" height="22.73" fill="#ffff99"/>
<rect x="680.12" y="380.56" width="28.88" height="22.73" fill="#ffff99"/>
<rect x="420.20" y="402.49" width="29.68" height="22.73" fill="#ffff80"/>
<rect x="449.08" y="402.49" width="29.68" height="22.73" fill="#ffff40"/>
<rect x="477.96" y="402.49" width="29.68" height="22.73" fill="#ffff50"/>
<rect x="506.84" y="402.49" width="29.68" height="22.73" fill="#ffff40"/>
<rect x="535.72" y="402.49" width="29.68" height="22.73" fill="#ffff68"/>
<rect x="564.60" y="402.49" width="29.68" height="22.73" fill="#ffff89"/>
<rect x="593.48" y="402.49" width="29.68" height="22.73" fill="#ffff78"/>
<rect x="622.36" y="402.49" width="29.68" height="22.73" fill="#ffff80"/>
<rect x="651.24" y="402.49" width="29.68" height="22.73" fill="#ffff78"/>
<rect x="680.12" y="402.49" width="28.88" height="22.73" fill="#ffff70"/>
<rect x="420.20" y="424.42" width="29.68" height="22.73" fill="#ffff48"/>
<rect x="449.08" y="424.42" width="29.68" height="22.73" fill="#ffff10"/>
<rect x="477.96" y="424.42" width="29.68" height="22.73" fill="#ffff18"/>
<rect x="506.84" y="424.42" width="29.68" height="22.73" fill="#ffff00"/>
<rect x="535.72" y="424.42" width="29.68" height="22.73" fill="#ffff28"/>
<rect x="564.60" y="424.42" width="29.68" height="22.73" fill="#ffff50"/>
<rect x="593.48" y="424.42" width="29.68" height="22.73" fill="#ffff40"/>
<rect x="622.36" y="424.42" width="29.68" height="22.73" fill="#ffff40"/>
<rect x="651.24" y="424.42" width="29.68" height="22.73" fill="#ffff40"/>
<rect x="680.12" y="424.42" width="28.88" height="22.73" fill="#ffff30"/>
<rect x="420.20" y="446.35" width="29.68" height="22.73" fill="#ffff18"/>
<rect x="449.08" y="446.35" width="29.68" height="22.73" fill="#ffee00"/>
<rect x="477.96" y="446.35" width="29.68" height="22.73" fill="#ffea00"/>
<rect x="506.84" y="446.35" width="29.68" height="22.73" fill="#ffe000"/>
<rect x="535.72" y="446.35" width="29.68" height="22.73" fill="#fff200"/>
<rect x="564.60" y="446.35" width="29.68" height="22.73" fill="#ffff20"/>
<rect x="593.48" y="446.35" width="29.68" height="22.73" fill="#fffb00"/>
<rect x="622.36" y="446.35" width="29.68" height="22.73" fill="#fffb00"/>
<rect x="651.24" y="446.35" width="29.68" height="22.73" fill="#fff700"/>
<rect x="680.12" y="446.35" width="28.88" height="22.73" fill="#ffff00"/>
<rect x="420.20" y="468.28" width="29.68" height="22.73" fill="#fff200"/>
<rect x="449.08" y="468.28" width="29.68" height="22.73" fill="#ffc000"/>
<rect x="477.96" y="468.28" width="29.68" height="22.73" fill="#ffc000"/>
<rect x="506.84" y="468.28" width="29.68" height="22.73" fill="#ffb000"/>
<rect x="535.72" y="468.28" width="29.68" height="22.73" fill="#ffcc00"/>
<rect x="564.60" y="468.28" width="29.68" height="22.73" fill="#ffff00"/>
<rect x="593.48" y="468.28" width="29.68" height="22.73" fill="#ffe400"/>
<rect x="622.36" y="468.28" width="29.68" height="22.73" fill="#ffe000"/>
<rect x="651.24" y="468.28" width="29.68" height="22.73" fill="#ffd500"/>
<rect x="680.12" y="468.28" width="28.88" height="22.73" fill="#ffc500"/>
<rect x="420.20" y="490.21" width="29.68" height="22.73" fill="#ffbc00"/>
<rect x="449.08" y="490.21" width="29.68" height="22.73" fill="#ff9400"/>
<rect x="477.96" y="490.21" width="29.68" height="22.73" fill="#ff9400"/>
<rect x="506.84" y="490.21" width="29.68" height="22.73" fill="#ff7c00"/>
<rect x="535.72" y="490.21" width="29.68" height="22.73" fill="#ffa000"/>
<rect x="564.60" y="490.21" width="29.68" height="22.73" fill="#ffd000"/>
<rect x="593.48" y="490.21" width="29.68" height="22.73" fill="#ffb800"/>
<rect x="622.36" y="490.21" width="29.68" height="22.73" fill="#ffb000"/>
<rect x="651.24" y="490.21" width="29.68" height="22.73" fill="#ffa800"/>
<rect x="680.12" y="490.21" width="28.88" height="22.73" fill="#ff9800"/>
<rect x="420.20" y="512.14" width="29.68" height="22.73" fill="#ff9800"/>
<rect x="449.08" y="512.14" width="29.68" height="22.73" fill="#ff5c00"/>
<rect x="477.96" y="512.14" width="29.68" height="22.73" fill="#ff5900"/>
<rect x="506.84" y="512.14" width="29.68" height="22.73" fill="#ff4000"/>
<rect x="535.72" y="512.14" width="29.68" height="22.73" fill="#ff7100"/>
<rect x="564.60" y="512.14" width="29.68" height="22.73" fill="#ff9400"/>
<rect x="593.48" y="512.14" width="29.68" height="22.73" fill="#ff8000"/>
<rect x="622.36" y="512.14" width="29.68" height="22.73" fill="#ff7100"/>
<rect x="651.24" y="512.14" width="29.68" height="22.73" fill="#ff5900"/>
<rect x="680.12" y="512.14" width="28.88" height="22.73" fill="#ff5000"/>
<rect x="420.20" y="534.07" width="29.68" height="21.93" fill="#ff6d00"/>
<rect x="449.08" y="534.07" width="29.68" height="21.93" fill="#ff1100"/>
<rect x="477.96" y="534.07" width="29.68" height="21.93" fill="#dd0000"/>
<rect x="506.84" y="534.07" width="29.68" height="21.93" fill="#c90000"/>
<rect x="535.72" y="534.07" width="29.68" height="21.93" fill="#cd0000"/>
<rect x="564.60" y="534.07" width="29.68" height="21.93" fill="#af0000"/>
<rect x="593.48" y="534.07" width="29.68" height="21.93" fill="#9f0000"/>
<rect x="622.36" y="534.07" width="29.68" height="21.93" fill="#a70000"/>
<rect x="651.24" y="534.07" width="29.68" height="21.93" fill="#a70000"/>
<rect x="680.12" y="534.07" width="28.88" height="21.93" fill="#9e0000"/>
</g>
<text transform="translate(386.55,373.59) scale(1.0217,1.0000)" font-size="13.00" fill="#262626"><tspan font-family="Liberation Sans, sans-serif">0.24</tspan></text>
<text transform="translate(386.55,417.45) scale(1.0217,1.0000)" font-size="13.00" fill="#262626"><tspan font-family="Liberation Sans, sans-serif">0.18</tspan></text>
<text transform="translate(386.55,461.31) scale(1.0217,1.0000)" font-size="13.00" fill="#262626"><tspan font-family="Liberation Sans, sans-serif">0.12</tspan></text>
<text transform="translate(386.55,505.17) scale(1.0217,1.0000)" font-size="13.00" fill="#262626"><tspan font-family="Liberation Sans, sans-serif">0.06</tspan></text>
<text transform="translate(405.00,549.03) scale(1.0207,1.0000)" font-size="13.00" fill="#262626"><tspan font-family="Liberation Sans, sans-serif">0</tspan></text>
<text transform="translate(425.41,572.70) scale(1.0222,1.0000)" font-size="13.00" fill="#262626"><tspan font-family="Liberation Sans, sans-serif">0.1</tspan></text>
<text transform="translate(483.17,572.70) scale(1.0222,1.0000)" font-size="13.00" fill="#262626"><tspan font-family="Liberation Sans, sans-serif">0.3</tspan></text>
<text transform="translate(540.93,572.70) scale(1.0222,1.0000)" font-size="13.00" fill="#262626"><tspan font-family="Liberation Sans, sans-serif">0.5</tspan></text>
<text transform="translate(598.70,572.70) scale(1.0222,1.0000)" font-size="13.00" fill="#262626"><tspan font-family="Liberation Sans, sans-serif">0.7</tspan></text>
<text transform="translate(656.46,572.70) scale(1.0222,1.0000)" font-size="13.00" fill="#262626"><tspan font-family="Liberation Sans, sans-serif">0.9</tspan></text>
<text transform="translate(483.20,588.60) scale(1.1728,1.0000)" font-size="13.60" fill="#262626"><tspan font-family="Liberation Sans, sans-serif" font-weight="bold">Bright scale factor (</tspan><tspan font-family="Liberation Sans, sans-serif" font-style="italic">b</tspan><tspan font-family="Liberation Sans, sans-serif" font-weight="bold">)</tspan></text>
<text transform="translate(379.10,500.00) rotate(-90) scale(1.1830,1.0000)" font-size="13.60" fill="#262626"><tspan font-family="Liberation Sans, sans-serif" font-weight="bold">Probability (</tspan><tspan font-family="Liberation Sans, sans-serif" font-style="italic">p</tspan><tspan font-family="Liberation Sans, sans-serif" font-weight="bold">)</tspan></text>
<text transform="translate(472.20,330.70) scale(0.9821,1.0500)" font-size="22.00" fill="#000"><tspan font-family="Liberation Serif, serif">(</tspan><tspan font-family="Liberation Serif, serif" font-weight="bold">d</tspan><tspan font-family="Liberation Serif, serif">) YOLOv8m</tspan></text>
<g>
<rect x="66.10" y="638.40" width="29.68" height="22.63" fill="#ffffa1"/>
<rect x="94.98" y="638.40" width="29.68" height="22.63" fill="#ffff99"/>
<rect x="123.86" y="638.40" width="29.68" height="22.63" fill="#ffff99"/>
<rect x="152.74" y="638.40" width="29.68" height="22.63" fill="#ffff91"/>
<rect x="181.62" y="638.40" width="29.68" height="22.63" fill="#ffffa1"/>
<rect x="210.50" y="638.40" width="29.68" height="22.63" fill="#ffffb9"/>
<rect x="239.38" y="638.40" width="29.68" height="22.63" fill="#ffffb1"/>
<rect x="268.26" y="638.40" width="29.68" height="22.63" fill="#ffffb1"/>
<rect x="297.14" y="638.40" width="29.68" height="22.63" fill="#ffffb1"/>
<rect x="326.02" y="638.40" width="28.88" height="22.63" fill="#ffffa1"/>
<rect x="66.10" y="660.23" width="29.68" height="22.63" fill="#ffff89"/>
<rect x="94.98" y="660.23" width="29.68" height="22.63" fill="#ffff70"/>
<rect x="123.86" y="660.23" width="29.68" height="22.63" fill="#ffff70"/>
<rect x="152.74" y="660.23" width="29.68" height="22.63" fill="#ffff50"/>
<rect x="181.62" y="660.23" width="29.68" height="22.63" fill="#ffff70"/>
<rect x="210.50" y="660.23" width="29.68" height="22.63" fill="#ffff89"/>
<rect x="239.38" y="660.23" width="29.68" height="22.63" fill="#ffff80"/>
<rect x="268.26" y="660.23" width="29.68" height="22.63" fill="#ffff80"/>
<rect x="297.14" y="660.23" width="29.68" height="22.63" fill="#ffff78"/>
<rect x="326.02" y="660.23" width="28.88" height="22.63" fill="#ffff78"/>
<rect x="66.10" y="682.06" width="29.68" height="22.63" fill="#ffff60"/>
<rect x="94.98" y="682.06" width="29.68" height="22.63" fill="#ffff48"/>
<rect x="123.86" y="682.06" width="29.68" height="22.63" fill="#ffff40"/>
<rect x="152.74" y="682.06" width="29.68" height="22.63" fill="#ffff20"/>
<rect x="181.62" y="682.06" width="29.68" height="22.63" fill="#ffff40"/>
<rect x="210.50" y="682.06" width="29.68" height="22.63" fill="#ffff68"/>
<rect x="239.38" y="682.06" width="29.68" height="22.63" fill="#ffff58"/>
<rect x="268.26" y="682.06" width="29.68" height="22.63" fill="#ffff58"/>
<rect x="297.14" y="682.06" width="29.68" height="22.63" fill="#ffff50"/>
<rect x="326.02" y="682.06" width="28.88" height="22.63" fill="#ffff48"/>
<rect x="66.10" y="703.89" width="29.68" height="22.63" fill="#ffff30"/>
<rect x="94.98" y="703.89" width="29.68" height="22.63" fill="#ffff10"/>
<rect x="123.86" y="703.89" width="29.68" height="22.63" fill="#ffff08"/>
<rect x="152.74" y="703.89" width="29.68" height="22.63" fill="#fffb00"/>
<rect x="181.62" y="703.89" width="29.68" height="22.63" fill="#ffff10"/>
<rect x="210.50" y="703.89" width="29.68" height="22.63" fill="#ffff38"/>
<rect x="239.38" y="703.89" width="29.68" height="22.63" fill="#ffff28"/>
<rect x="268.26" y="703.89" width="29.68" height="22.63" fill="#ffff28"/>
<rect x="297.14" y="703.89" width="29.68" height="22.63" fill="#ffff20"/>
<rect x="326.02" y="703.89" width="28.88" height="22.63" fill="#ffff08"/>
<rect x="66.10" y="725.72" width="29.68" height="22.63" fill="#ffff08"/>
<rect x="94.98" y="725.72" width="29.68" height="22.63" fill="#fffb00"/>
<rect x="123.86" y="725.72" width="29.68" height="22.63" fill="#ffea00"/>
<rect x="152.74" y="725.72" width="29.68" height="22.63" fill="#ffd000"/>
<rect x="181.62" y="725.72" width="29.68" height="22.63" fill="#ffdc00"/>
<rect x="210.50" y="725.72" width="29.68" height="22.63" fill="#ffff00"/>
<rect x="239.38" y="725.72" width="29.68" height="22.63" fill="#ffff00"/>
<rect x="268.26" y="725.72" width="29.68" height="22.63" fill="#fffb00"/>
<rect x="297.14" y="725.72" width="29.68" height="22.63" fill="#ffee00"/>
<rect x="326.02" y="725.72" width="28.88" height="22.63" fill="#ffd300"/>
<rect x="66.10" y="747.55" width="29.68" height="22.63" fill="#ffff00"/>
<rect x="94.98" y="747.55" width="29.68" height="22.63" fill="#ffdc00"/>
<rect x="123.86" y="747.55" width="29.68" height="22.63" fill="#ffc800"/>
<rect x="152.74" y="747.55" width="29.68" height="22.63" fill="#ffb000"/>
<rect x="181.62" y="747.55" width="29.68" height="22.63" fill="#ffc400"/>
<rect x="210.50" y="747.55" width="29.68" height="22.63" fill="#ffe000"/>
<rect x="239.38" y="747.55" width="29.68" height="22.63" fill="#ffd900"/>
<rect x="268.26" y="747.55" width="29.68" height="22.63" fill="#ffd900"/>
<rect x="297.14" y="747.55" width="29.68" height="22.63" fill="#ffcc00"/>
<rect x="326.02" y="747.55" width="28.88" height="22.63" fill="#ffb000"/>
<rect x="66.10" y="769.38" width="29.68" height="22.63" fill="#ffd000"/>
<rect x="94.98" y="769.38" width="29.68" height="22.63" fill="#ffa800"/>
<rect x="123.86" y="769.38" width="29.68" height="22.63" fill="#ff9c00"/>
<rect x="152.74" y="769.38" width="29.68" height="22.63" fill="#ff8000"/>
<rect x="181.62" y="769.38" width="29.68" height="22.63" fill="#ff9800"/>
<rect x="210.50" y="769.38" width="29.68" height="22.63" fill="#ffb000"/>
<rect x="239.38" y="769.38" width="29.68" height="22.63" fill="#ffa400"/>
<rect x="268.26" y="769.38" width="29.68" height="22.63" fill="#ffa000"/>
<rect x="297.14" y="769.38" width="29.68" height="22.63" fill="#ff9000"/>
<rect x="326.02" y="769.38" width="28.88" height="22.63" fill="#ff8400"/>
<rect x="66.10" y="791.21" width="29.68" height="22.63" fill="#ffa400"/>
<rect x="94.98" y="791.21" width="29.68" height="22.63" fill="#ff7500"/>
<rect x="123.86" y="791.21" width="29.68" height="22.63" fill="#ff7100"/>
<rect x="152.74" y="791.21" width="29.68" height="22.63" fill="#ff5000"/>
<rect x="181.62" y="791.21" width="29.68" height="22.63" fill="#ff6800"/>
<rect x="210.50" y="791.21" width="29.68" height="22.63" fill="#ff7c00"/>
<rect x="239.38" y="791.21" width="29.68" height="22.63" fill="#ff6d00"/>
<rect x="268.26" y="791.21" width="29.68" height="22.63" fill="#ff6800"/>
<rect x="297.14" y="791.21" width="29.68" height="22.63" fill="#ff5c00"/>
<rect x="326.02" y="791.21" width="28.88" height="22.63" fill="#ff5000"/>
<rect x="66.10" y="813.04" width="29.68" height="22.63" fill="#ff8000"/>
<rect x="94.98" y="813.04" width="29.68" height="22.63" fill="#ff3900"/>
<rect x="123.86" y="813.04" width="29.68" height="22.63" fill="#ff3100"/>
<rect x="152.74" y="813.04" width="29.68" height="22.63" fill="#ff2100"/>
<rect x="181.62" y="813.04" width="29.68" height="22.63" fill="#ff3500"/>
<rect x="210.50" y="813.04" width="29.68" height="22.63" fill="#ff4000"/>
<rect x="239.38" y="813.04" width="29.68" height="22.63" fill="#ff3900"/>
<rect x="268.26" y="813.04" width="29.68" height="22.63" fill="#ff3500"/>
<rect x="297.14" y="813.04" width="29.68" height="22.63" fill="#ff2100"/>
<rect x="326.02" y="813.04" width="28.88" height="22.63" fill="#ff1900"/>
<rect x="66.10" y="834.87" width="29.68" height="21.83" fill="#ff5c00"/>
<rect x="94.98" y="834.87" width="29.68" height="21.83" fill="#e80000"/>
<rect x="123.86" y="834.87" width="29.68" height="21.83" fill="#c10000"/>
<rect x="152.74" y="834.87" width="29.68" height="21.83" fill="#a70000"/>
<rect x="181.62" y="834.87" width="29.68" height="21.83" fill="#b50000"/>
<rect x="210.50" y="834.87" width="29.68" height="21.83" fill="#900000"/>
<rect x="239.38" y="834.87" width="29.68" height="21.83" fill="#830000"/>
<rect x="268.26" y="834.87" width="29.68" height="21.83" fill="#7c0000"/>
<rect x="297.14" y="834.87" width="29.68" height="21.83" fill="#7c0000"/>
<rect x="326.02" y="834.87" width="28.88" height="21.83" fill="#6f0000"/>
</g>
<text transform="translate(32.45,675.14) scale(1.0217,1.0000)" font-size="13.00" fill="#262626"><tspan font-family="Liberation Sans, sans-serif">0.24</tspan></text>
<text transform="translate(32.45,718.80) scale(1.0217,1.0000)" font-size="13.00" fill="#262626"><tspan font-family="Liberation Sans, sans-serif">0.18</tspan></text>
<text transform="translate(32.45,762.47) scale(1.0217,1.0000)" font-size="13.00" fill="#262626"><tspan font-family="Liberation Sans, sans-serif">0.12</tspan></text>
<text transform="translate(32.45,806.12) scale(1.0217,1.0000)" font-size="13.00" fill="#262626"><tspan font-family="Liberation Sans, sans-serif">0.06</tspan></text>
<text transform="translate(50.90,849.78) scale(1.0207,1.0000)" font-size="13.00" fill="#262626"><tspan font-family="Liberation Sans, sans-serif">0</tspan></text>
<text transform="translate(71.31,873.40) scale(1.0222,1.0000)" font-size="13.00" fill="#262626"><tspan font-family="Liberation Sans, sans-serif">0.1</tspan></text>
<text transform="translate(129.08,873.40) scale(1.0222,1.0000)" font-size="13.00" fill="#262626"><tspan font-family="Liberation Sans, sans-serif">0.3</tspan></text>
<text transform="translate(186.84,873.40) scale(1.0222,1.0000)" font-size="13.00" fill="#262626"><tspan font-family="Liberation Sans, sans-serif">0.5</tspan></text>
<text transform="translate(244.60,873.40) scale(1.0222,1.0000)" font-size="13.00" fill="#262626"><tspan font-family="Liberation Sans, sans-serif">0.7</tspan></text>
<text transform="translate(302.36,873.40) scale(1.0222,1.0000)" font-size="13.00" fill="#262626"><tspan font-family="Liberation Sans, sans-serif">0.9</tspan></text>
<text transform="translate(129.10,889.30) scale(1.1728,1.0000)" font-size="13.60" fill="#262626"><tspan font-family="Liberation Sans, sans-serif" font-weight="bold">Bright scale factor (</tspan><tspan font-family="Liberation Sans, sans-serif" font-style="italic">b</tspan><tspan font-family="Liberation Sans, sans-serif" font-weight="bold">)</tspan></text>
<text transform="translate(25.00,801.20) rotate(-90) scale(1.1830,1.0000)" font-size="13.60" fill="#262626"><tspan font-family="Liberation Sans, sans-serif" font-weight="bold">Probability (</tspan><tspan font-family="Liberation Sans, sans-serif" font-style="italic">p</tspan><tspan font-family="Liberation Sans, sans-serif" font-weight="bold">)</tspan></text>
<text transform="translate(116.70,631.50) scale(0.9837,1.0500)" font-size="22.00" fill="#000"><tspan font-family="Liberation Serif, serif">(</tspan><tspan font-family="Liberation Serif, serif" font-weight="bold">e</tspan><tspan font-family="Liberation Serif, serif">) YOLOv5xu</tspan></text>
<g>
<rect x="420.20" y="638.40" width="29.68" height="22.63" fill="#ffffb9"/>
<rect x="449.08" y="638.40" width="29.68" height="22.63" fill="#ffff70"/>
<rect x="477.96" y="638.40" width="29.68" height="22.63" fill="#ffff60"/>
<rect x="506.84" y="638.40" width="29.68" height="22.63" fill="#ffff50"/>
<rect x="535.72" y="638.40" width="29.68" height="22.63" fill="#ffff58"/>
<rect x="564.60" y="638.40" width="29.68" height="22.63" fill="#ffff70"/>
<rect x="593.48" y="638.40" width="29.68" height="22.63" fill="#ffff68"/>
<rect x="622.36" y="638.40" width="29.68" height="22.63" fill="#ffff70"/>
<rect x="651.24" y="638.40" width="29.68" height="22.63" fill="#ffff68"/>
<rect x="680.12" y="638.40" width="28.88" height="22.63" fill="#ffff60"/>
<rect x="420.20" y="660.23" width="29.68" height="22.63" fill="#ffffa1"/>
<rect x="449.08" y="660.23" width="29.68" height="22.63" fill="#ffff48"/>
<rect x="477.96" y="660.23" width="29.68" height="22.63" fill="#ffff30"/>
<rect x="506.84" y="660.23" width="29.68" height="22.63" fill="#ffff18"/>
<rect x="535.72" y="660.23" width="29.68" height="22.63" fill="#ffff20"/>
<rect x="564.60" y="660.23" width="29.68" height="22.63" fill="#ffff40"/>
<rect x="593.48" y="660.23" width="29.68" height="22.63" fill="#ffff38"/>
<rect x="622.36" y="660.23" width="29.68" height="22.63" fill="#ffff38"/>
<rect x="651.24" y="660.23" width="29.68" height="22.63" fill="#ffff30"/>
<rect x="680.12" y="660.23" width="28.88" height="22.63" fill="#ffff30"/>
<rect x="420.20" y="682.06" width="29.68" height="22.63" fill="#ffff78"/>
<rect x="449.08" y="682.06" width="29.68" height="22.63" fill="#ffff28"/>
<rect x="477.96" y="682.06" width="29.68" height="22.63" fill="#ffff00"/>
<rect x="506.84" y="682.06" width="29.68" height="22.63" fill="#fff200"/>
<rect x="535.72" y="682.06" width="29.68" height="22.63" fill="#fff200"/>
<rect x="564.60" y="682.06" width="29.68" height="22.63" fill="#ffff10"/>
<rect x="593.48" y="682.06" width="29.68" height="22.63" fill="#ffff08"/>
<rect x="622.36" y="682.06" width="29.68" height="22.63" fill="#ffff08"/>
<rect x="651.24" y="682.06" width="29.68" height="22.63" fill="#fffe00"/>
<rect x="680.12" y="682.06" width="28.88" height="22.63" fill="#fffb00"/>
<rect x="420.20" y="703.89" width="29.68" height="22.63" fill="#ffff58"/>
<rect x="449.08" y="703.89" width="29.68" height="22.63" fill="#ffff00"/>
<rect x="477.96" y="703.89" width="29.68" height="22.63" fill="#ffe000"/>
<rect x="506.84" y="703.89" width="29.68" height="22.63" fill="#ffd000"/>
<rect x="535.72" y="703.89" width="29.68" height="22.63" fill="#ffcc00"/>
<rect x="564.60" y="703.89" width="29.68" height="22.63" fill="#ffea00"/>
<rect x="593.48" y="703.89" width="29.68" height="22.63" fill="#ffe000"/>
<rect x="622.36" y="703.89" width="29.68" height="22.63" fill="#ffee00"/>
<rect x="651.24" y="703.89" width="29.68" height="22.63" fill="#ffe000"/>
<rect x="680.12" y="703.89" width="28.88" height="22.63" fill="#ffd000"/>
<rect x="420.20" y="725.72" width="29.68" height="22.63" fill="#ffff30"/>
<rect x="449.08" y="725.72" width="29.68" height="22.63" fill="#ffdc00"/>
<rect x="477.96" y="725.72" width="29.68" height="22.63" fill="#ffb800"/>
<rect x="506.84" y="725.72" width="29.68" height="22.63" fill="#ffa800"/>
<rect x="535.72" y="725.72" width="29.68" height="22.63" fill="#ffa800"/>
<rect x="564.60" y="725.72" width="29.68" height="22.63" fill="#ffc400"/>
<rect x="593.48" y="725.72" width="29.68" height="22.63" fill="#ffb800"/>
<rect x="622.36" y="725.72" width="29.68" height="22.63" fill="#ffc000"/>
<rect x="651.24" y="725.72" width="29.68" height="22.63" fill="#ffb800"/>
<rect x="680.12" y="725.72" width="28.88" height="22.63" fill="#ffa000"/>
<rect x="420.20" y="747.55" width="29.68" height="22.63" fill="#ffff04"/>
<rect x="449.08" y="747.55" width="29.68" height="22.63" fill="#ffc400"/>
<rect x="477.96" y="747.55" width="29.68" height="22.63" fill="#ffa000"/>
<rect x="506.84" y="747.55" width="29.68" height="22.63" fill="#ff9400"/>
<rect x="535.72" y="747.55" width="29.68" height="22.63" fill="#ff9400"/>
<rect x="564.60" y="747.55" width="29.68" height="22.63" fill="#ffa000"/>
<rect x="593.48" y="747.55" width="29.68" height="22.63" fill="#ff9800"/>
<rect x="622.36" y="747.55" width="29.68" height="22.63" fill="#ff9c00"/>
<rect x="651.24" y="747.55" width="29.68" height="22.63" fill="#ff9400"/>
<rect x="680.12" y="747.55" width="28.88" height="22.63" fill="#ff8400"/>
<rect x="420.20" y="769.38" width="29.68" height="22.63" fill="#ffd000"/>
<rect x="449.08" y="769.38" width="29.68" height="22.63" fill="#ffa000"/>
<rect x="477.96" y="769.38" width="29.68" height="22.63" fill="#ff8400"/>
<rect x="506.84" y="769.38" width="29.68" height="22.63" fill="#ff6800"/>
<rect x="535.72" y="769.38" width="29.68" height="22.63" fill="#ff6800"/>
<rect x="564.60" y="769.38" width="29.68" height="22.63" fill="#ff7800"/>
<rect x="593.48" y="769.38" width="29.68" height="22.63" fill="#ff6d00"/>
<rect x="622.36" y="769.38" width="29.68" height="22.63" fill="#ff6d00"/>
<rect x="651.24" y="769.38" width="29.68" height="22.63" fill="#ff6100"/>
<rect x="680.12" y="769.38" width="28.88" height="22.63" fill="#ff5900"/>
<rect x="420.20" y="791.21" width="29.68" height="22.63" fill="#ffa800"/>
<rect x="449.08" y="791.21" width="29.68" height="22.63" fill="#ff7c00"/>
<rect x="477.96" y="791.21" width="29.68" height="22.63" fill="#ff6500"/>
<rect x="506.84" y="791.21" width="29.68" height="22.63" fill="#ff4400"/>
<rect x="535.72" y="791.21" width="29.68" height="22.63" fill="#ff4800"/>
<rect x="564.60" y="791.21" width="29.68" height="22.63" fill="#ff5000"/>
<rect x="593.48" y="791.21" width="29.68" height="22.63" fill="#ff4800"/>
<rect x="622.36" y="791.21" width="29.68" height="22.63" fill="#ff4000"/>
<rect x="651.24" y="791.21" width="29.68" height="22.63" fill="#ff3900"/>
<rect x="680.12" y="791.21" width="28.88" height="22.63" fill="#ff2d00"/>
<rect x="420.20" y="813.04" width="29.68" height="22.63" fill="#ff8400"/>
<rect x="449.08" y="813.04" width="29.68" height="22.63" fill="#ff4000"/>
<rect x="477.96" y="813.04" width="29.68" height="22.63" fill="#ff3100"/>
<rect x="506.84" y="813.04" width="29.68" height="22.63" fill="#ff1500"/>
<rect x="535.72" y="813.04" width="29.68" height="22.63" fill="#ff1900"/>
<rect x="564.60" y="813.04" width="29.68" height="22.63" fill="#ff1d00"/>
<rect x="593.48" y="813.04" width="29.68" height="22.63" fill="#ff0b00"/>
<rect x="622.36" y="813.04" width="29.68" height="22.63" fill="#f90000"/>
<rect x="651.24" y="813.04" width="29.68" height="22.63" fill="#f60000"/>
<rect x="680.12" y="813.04" width="28.88" height="22.63" fill="#f10000"/>
<rect x="420.20" y="834.87" width="29.68" height="21.83" fill="#ff5900"/>
<rect x="449.08" y="834.87" width="29.68" height="21.83" fill="#dd0000"/>
<rect x="477.96" y="834.87" width="29.68" height="21.83" fill="#c10000"/>
<rect x="506.84" y="834.87" width="29.68" height="21.83" fill="#af0000"/>
<rect x="535.72" y="834.87" width="29.68" height="21.83" fill="#af0000"/>
<rect x="564.60" y="834.87" width="29.68" height="21.83" fill="#9f0000"/>
<rect x="593.48" y="834.87" width="29.68" height="21.83" fill="#970000"/>
<rect x="622.36" y="834.87" width="29.68" height="21.83" fill="#900000"/>
<rect x="651.24" y="834.87" width="29.68" height="21.83" fill="#8a0000"/>
<rect x="680.12" y="834.87" width="28.88" height="21.83" fill="#7c0000"/>
</g>
<text transform="translate(386.55,675.14) scale(1.0217,1.0000)" font-size="13.00" fill="#262626"><tspan font-family="Liberation Sans, sans-serif">0.24</tspan></text>
<text transform="translate(386.55,718.80) scale(1.0217,1.0000)" font-size="13.00" fill="#262626"><tspan font-family="Liberation Sans, sans-serif">0.18</tspan></text>
<text transform="translate(386.55,762.47) scale(1.0217,1.0000)" font-size="13.00" fill="#262626"><tspan font-family="Liberation Sans, sans-serif">0.12</tspan></text>
<text transform="translate(386.55,806.12) scale(1.0217,1.0000)" font-size="13.00" fill="#262626"><tspan font-family="Liberation Sans, sans-serif">0.06</tspan></text>
<text transform="translate(405.00,849.78) scale(1.0207,1.0000)" font-size="13.00" fill="#262626"><tspan font-family="Liberation Sans, sans-serif">0</tspan></text>
<text transform="translate(425.41,873.40) scale(1.0222,1.0000)" font-size="13.00" fill="#262626"><tspan font-family="Liberation Sans, sans-serif">0.1</tspan></text>
<text transform="translate(483.17,873.40) scale(1.0222,1.0000)" font-size="13.00" fill="#262626"><tspan font-family="Liberation Sans, sans-serif">0.3</tspan></text>
<text transform="translate(540.93,873.40) scale(1.0222,1.0000)" font-size="13.00" fill="#262626"><tspan font-family="Liberation Sans, sans-serif">0.5</tspan></text>
<text transform="translate(598.70,873.40) scale(1.0222,1.0000)" font-size="13.00" fill="#262626"><tspan font-family="Liberation Sans, sans-serif">0.7</tspan></text>
<text transform="translate(656.46,873.40) scale(1.0222,1.0000)" font-size="13.00" fill="#262626"><tspan font-family="Liberation Sans, sans-serif">0.9</tspan></text>
<text transform="translate(483.20,889.30) scale(1.1728,1.0000)" font-size="13.60" fill="#262626"><tspan font-family="Liberation Sans, sans-serif" font-weight="bold">Bright scale factor (</tspan><tspan font-family="Liberation Sans, sans-serif" font-style="italic">b</tspan><tspan font-family="Liberation Sans, sans-serif" font-weight="bold">)</tspan></text>
<text transform="translate(379.10,801.20) rotate(-90) scale(1.1830,1.0000)" font-size="13.60" fill="#262626"><tspan font-family="Liberation Sans, sans-serif" font-weight="bold">Probability (</tspan><tspan font-family="Liberation Sans, sans-serif" font-style="italic">p</tspan><tspan font-family="Liberation Sans, sans-serif" font-weight="bold">)</tspan></text>
<text transform="translate(478.90,631.50) scale(0.9648,1.0500)" font-size="22.00" fill="#000"><tspan font-family="Liberation Serif, serif">(</tspan><tspan font-family="Liberation Serif, serif" font-weight="bold">f</tspan><tspan font-family="Liberation Serif, serif">) YOLOv8x</tspan></text>
<g>
<rect x="66.10" y="940.40" width="29.68" height="22.71" fill="#ffffd9"/>
<rect x="94.98" y="940.40" width="29.68" height="22.71" fill="#ffffd9"/>
<rect x="123.86" y="940.40" width="29.68" height="22.71" fill="#ffffd9"/>
<rect x="152.74" y="940.40" width="29.68" height="22.71" fill="#ffffd9"/>
<rect x="181.62" y="940.40" width="29.68" height="22.71" fill="#ffffd9"/>
<rect x="210.50" y="940.40" width="29.68" height="22.71" fill="#ffffe1"/>
<rect x="239.38" y="940.40" width="29.68" height="22.71" fill="#ffffd9"/>
<rect x="268.26" y="940.40" width="29.68" height="22.71" fill="#ffffd9"/>
<rect x="297.14" y="940.40" width="29.68" height="22.71" fill="#ffffd9"/>
<rect x="326.02" y="940.40" width="28.88" height="22.71" fill="#ffffd9"/>
<rect x="66.10" y="962.31" width="29.68" height="22.71" fill="#ffffd1"/>
<rect x="94.98" y="962.31" width="29.68" height="22.71" fill="#ffffd1"/>
<rect x="123.86" y="962.31" width="29.68" height="22.71" fill="#ffffd1"/>
<rect x="152.74" y="962.31" width="29.68" height="22.71" fill="#ffffc9"/>
<rect x="181.62" y="962.31" width="29.68" height="22.71" fill="#ffffc9"/>
<rect x="210.50" y="962.31" width="29.68" height="22.71" fill="#ffffd1"/>
<rect x="239.38" y="962.31" width="29.68" height="22.71" fill="#ffffd1"/>
<rect x="268.26" y="962.31" width="29.68" height="22.71" fill="#ffffd1"/>
<rect x="297.14" y="962.31" width="29.68" height="22.71" fill="#ffffc9"/>
<rect x="326.02" y="962.31" width="28.88" height="22.71" fill="#ffffc9"/>
<rect x="66.10" y="984.22" width="29.68" height="22.71" fill="#ffffc9"/>
<rect x="94.98" y="984.22" width="29.68" height="22.71" fill="#ffffc1"/>
<rect x="123.86" y="984.22" width="29.68" height="22.71" fill="#ffffc1"/>
<rect x="152.74" y="984.22" width="29.68" height="22.71" fill="#ffffb9"/>
<rect x="181.62" y="984.22" width="29.68" height="22.71" fill="#ffffb1"/>
<rect x="210.50" y="984.22" width="29.68" height="22.71" fill="#ffffb9"/>
<rect x="239.38" y="984.22" width="29.68" height="22.71" fill="#ffffb9"/>
<rect x="268.26" y="984.22" width="29.68" height="22.71" fill="#ffffc1"/>
<rect x="297.14" y="984.22" width="29.68" height="22.71" fill="#ffffb9"/>
<rect x="326.02" y="984.22" width="28.88" height="22.71" fill="#ffffb1"/>
<rect x="66.10" y="1006.13" width="29.68" height="22.71" fill="#ffffb9"/>
<rect x="94.98" y="1006.13" width="29.68" height="22.71" fill="#ffff99"/>
<rect x="123.86" y="1006.13" width="29.68" height="22.71" fill="#ffff99"/>
<rect x="152.74" y="1006.13" width="29.68" height="22.71" fill="#ffff91"/>
<rect x="181.62" y="1006.13" width="29.68" height="22.71" fill="#ffff89"/>
<rect x="210.50" y="1006.13" width="29.68" height="22.71" fill="#ffff91"/>
<rect x="239.38" y="1006.13" width="29.68" height="22.71" fill="#ffff91"/>
<rect x="268.26" y="1006.13" width="29.68" height="22.71" fill="#ffff91"/>
<rect x="297.14" y="1006.13" width="29.68" height="22.71" fill="#ffff89"/>
<rect x="326.02" y="1006.13" width="28.88" height="22.71" fill="#ffff89"/>
<rect x="66.10" y="1028.04" width="29.68" height="22.71" fill="#ffffa9"/>
<rect x="94.98" y="1028.04" width="29.68" height="22.71" fill="#ffff70"/>
<rect x="123.86" y="1028.04" width="29.68" height="22.71" fill="#ffff70"/>
<rect x="152.74" y="1028.04" width="29.68" height="22.71" fill="#ffff60"/>
<rect x="181.62" y="1028.04" width="29.68" height="22.71" fill="#ffff60"/>
<rect x="210.50" y="1028.04" width="29.68" height="22.71" fill="#ffff68"/>
<rect x="239.38" y="1028.04" width="29.68" height="22.71" fill="#ffff68"/>
<rect x="268.26" y="1028.04" width="29.68" height="22.71" fill="#ffff60"/>
<rect x="297.14" y="1028.04" width="29.68" height="22.71" fill="#ffff58"/>
<rect x="326.02" y="1028.04" width="28.88" height="22.71" fill="#ffff58"/>
<rect x="66.10" y="1049.95" width="29.68" height="22.71" fill="#ffffa1"/>
<rect x="94.98" y="1049.95" width="29.68" height="22.71" fill="#ffff38"/>
<rect x="123.86" y="1049.95" width="29.68" height="22.71" fill="#ffff38"/>
<rect x="152.74" y="1049.95" width="29.68" height="22.71" fill="#ffff28"/>
<rect x="181.62" y="1049.95" width="29.68" height="22.71" fill="#ffff28"/>
<rect x="210.50" y="1049.95" width="29.68" height="22.71" fill="#ffff30"/>
<rect x="239.38" y="1049.95" width="29.68" height="22.71" fill="#ffff28"/>
<rect x="268.26" y="1049.95" width="29.68" height="22.71" fill="#ffff20"/>
<rect x="297.14" y="1049.95" width="29.68" height="22.71" fill="#ffff18"/>
<rect x="326.02" y="1049.95" width="28.88" height="22.71" fill="#ffff10"/>
<rect x="66.10" y="1071.86" width="29.68" height="22.71" fill="#ffff70"/>
<rect x="94.98" y="1071.86" width="29.68" height="22.71" fill="#ffff10"/>
<rect x="123.86" y="1071.86" width="29.68" height="22.71" fill="#ffff10"/>
<rect x="152.74" y="1071.86" width="29.68" height="22.71" fill="#fffb00"/>
<rect x="181.62" y="1071.86" width="29.68" height="22.71" fill="#fff700"/>
<rect x="210.50" y="1071.86" width="29.68" height="22.71" fill="#fff200"/>
<rect x="239.38" y="1071.86" width="29.68" height="22.71" fill="#fff700"/>
<rect x="268.26" y="1071.86" width="29.68" height="22.71" fill="#ffea00"/>
<rect x="297.14" y="1071.86" width="29.68" height="22.71" fill="#ffe400"/>
<rect x="326.02" y="1071.86" width="28.88" height="22.71" fill="#ffd500"/>
<rect x="66.10" y="1093.77" width="29.68" height="22.71" fill="#ffff48"/>
<rect x="94.98" y="1093.77" width="29.68" height="22.71" fill="#ffd900"/>
<rect x="123.86" y="1093.77" width="29.68" height="22.71" fill="#ffd000"/>
<rect x="152.74" y="1093.77" width="29.68" height="22.71" fill="#ffc400"/>
<rect x="181.62" y="1093.77" width="29.68" height="22.71" fill="#ffc400"/>
<rect x="210.50" y="1093.77" width="29.68" height="22.71" fill="#ffc800"/>
<rect x="239.38" y="1093.77" width="29.68" height="22.71" fill="#ffc400"/>
<rect x="268.26" y="1093.77" width="29.68" height="22.71" fill="#ffbc00"/>
<rect x="297.14" y="1093.77" width="29.68" height="22.71" fill="#ffb800"/>
<rect x="326.02" y="1093.77" width="28.88" height="22.71" fill="#ffa800"/>
<rect x="66.10" y="1115.68" width="29.68" height="22.71" fill="#ffff18"/>
<rect x="94.98" y="1115.68" width="29.68" height="22.71" fill="#ffbc00"/>
<rect x="123.86" y="1115.68" width="29.68" height="22.71" fill="#ffa000"/>
<rect x="152.74" y="1115.68" width="29.68" height="22.71" fill="#ff8d00"/>
<rect x="181.62" y="1115.68" width="29.68" height="22.71" fill="#ff9000"/>
<rect x="210.50" y="1115.68" width="29.68" height="22.71" fill="#ff8d00"/>
<rect x="239.38" y="1115.68" width="29.68" height="22.71" fill="#ff8d00"/>
<rect x="268.26" y="1115.68" width="29.68" height="22.71" fill="#ff8000"/>
<rect x="297.14" y="1115.68" width="29.68" height="22.71" fill="#ff7800"/>
<rect x="326.02" y="1115.68" width="28.88" height="22.71" fill="#ff6d00"/>
<rect x="66.10" y="1137.59" width="29.68" height="21.91" fill="#ffd500"/>
<rect x="94.98" y="1137.59" width="29.68" height="21.91" fill="#ff7800"/>
<rect x="123.86" y="1137.59" width="29.68" height="21.91" fill="#ff5000"/>
<rect x="152.74" y="1137.59" width="29.68" height="21.91" fill="#ff4000"/>
<rect x="181.62" y="1137.59" width="29.68" height="21.91" fill="#ff3d00"/>
<rect x="210.50" y="1137.59" width="29.68" height="21.91" fill="#ff2d00"/>
<rect x="239.38" y="1137.59" width="29.68" height="21.91" fill="#ff2900"/>
<rect x="268.26" y="1137.59" width="29.68" height="21.91" fill="#ff2100"/>
<rect x="297.14" y="1137.59" width="29.68" height="21.91" fill="#ff2100"/>
<rect x="326.02" y="1137.59" width="28.88" height="21.91" fill="#ff1900"/>
</g>
<text transform="translate(32.45,976.56) scale(1.0217,1.0000)" font-size="13.00" fill="#262626"><tspan font-family="Liberation Sans, sans-serif">0.24</tspan></text>
<text transform="translate(32.45,1020.38) scale(1.0217,1.0000)" font-size="13.00" fill="#262626"><tspan font-family="Liberation Sans, sans-serif">0.18</tspan></text>
<text transform="translate(32.45,1064.20) scale(1.0217,1.0000)" font-size="13.00" fill="#262626"><tspan font-family="Liberation Sans, sans-serif">0.12</tspan></text>
<text transform="translate(32.45,1108.02) scale(1.0217,1.0000)" font-size="13.00" fill="#262626"><tspan font-family="Liberation Sans, sans-serif">0.06</tspan></text>
<text transform="translate(50.90,1151.85) scale(1.0207,1.0000)" font-size="13.00" fill="#262626"><tspan font-family="Liberation Sans, sans-serif">0</tspan></text>
<text transform="translate(71.31,1176.20) scale(1.0222,1.0000)" font-size="13.00" fill="#262626"><tspan font-family="Liberation Sans, sans-serif">0.1</tspan></text>
<text transform="translate(129.08,1176.20) scale(1.0222,1.0000)" font-size="13.00" fill="#262626"><tspan font-family="Liberation Sans, sans-serif">0.3</tspan></text>
<text transform="translate(186.84,1176.20) scale(1.0222,1.0000)" font-size="13.00" fill="#262626"><tspan font-family="Liberation Sans, sans-serif">0.5</tspan></text>
<text transform="translate(244.60,1176.20) scale(1.0222,1.0000)" font-size="13.00" fill="#262626"><tspan font-family="Liberation Sans, sans-serif">0.7</tspan></text>
<text transform="translate(302.36,1176.20) scale(1.0222,1.0000)" font-size="13.00" fill="#262626"><tspan font-family="Liberation Sans, sans-serif">0.9</tspan></text>
<text transform="translate(129.10,1192.10) scale(1.1728,1.0000)" font-size="13.60" fill="#262626"><tspan font-family="Liberation Sans, sans-serif" font-weight="bold">Bright scale factor (</tspan><tspan font-family="Liberation Sans, sans-serif" font-style="italic">b</tspan><tspan font-family="Liberation Sans, sans-serif" font-weight="bold">)</tspan></text>
<text transform="translate(25.00,1103.60) rotate(-90) scale(1.1830,1.0000)" font-size="13.60" fill="#262626"><tspan font-family="Liberation Sans, sans-serif" font-weight="bold">Probability (</tspan><tspan font-family="Liberation Sans, sans-serif" font-style="italic">p</tspan><tspan font-family="Liberation Sans, sans-serif" font-weight="bold">)</tspan></text>
<text transform="translate(54.60,933.40) scale(1.0125,1.0500)" font-size="22.00" fill="#000"><tspan font-family="Liberation Serif, serif">(</tspan><tspan font-family="Liberation Serif, serif" font-weight="bold">g</tspan><tspan font-family="Liberation Serif, serif">) Faster-RCNN MobileNet</tspan></text>
<g>
<rect x="420.20" y="940.40" width="29.68" height="22.71" fill="#ffffc9"/>
<rect x="449.08" y="940.40" width="29.68" height="22.71" fill="#ffff99"/>
<rect x="477.96" y="940.40" width="29.68" height="22.71" fill="#ffff99"/>
<rect x="506.84" y="940.40" width="29.68" height="22.71" fill="#ffff99"/>
<rect x="535.72" y="940.40" width="29.68" height="22.71" fill="#ffffa1"/>
<rect x="564.60" y="940.40" width="29.68" height="22.71" fill="#ffffb9"/>
<rect x="593.48" y="940.40" width="29.68" height="22.71" fill="#ffffb9"/>
<rect x="622.36" y="940.40" width="29.68" height="22.71" fill="#ffffc9"/>
<rect x="651.24" y="940.40" width="29.68" height="22.71" fill="#ffffc9"/>
<rect x="680.12" y="940.40" width="28.88" height="22.71" fill="#ffffc9"/>
<rect x="420.20" y="962.31" width="29.68" height="22.71" fill="#ffffa9"/>
<rect x="449.08" y="962.31" width="29.68" height="22.71" fill="#ffff70"/>
<rect x="477.96" y="962.31" width="29.68" height="22.71" fill="#ffff60"/>
<rect x="506.84" y="962.31" width="29.68" height="22.71" fill="#ffff60"/>
<rect x="535.72" y="962.31" width="29.68" height="22.71" fill="#ffff70"/>
<rect x="564.60" y="962.31" width="29.68" height="22.71" fill="#ffff89"/>
<rect x="593.48" y="962.31" width="29.68" height="22.71" fill="#ffff89"/>
<rect x="622.36" y="962.31" width="29.68" height="22.71" fill="#ffffa9"/>
<rect x="651.24" y="962.31" width="29.68" height="22.71" fill="#ffffa9"/>
<rect x="680.12" y="962.31" width="28.88" height="22.71" fill="#ffffa1"/>
<rect x="420.20" y="984.22" width="29.68" height="22.71" fill="#ffff91"/>
<rect x="449.08" y="984.22" width="29.68" height="22.71" fill="#ffff50"/>
<rect x="477.96" y="984.22" width="29.68" height="22.71" fill="#ffff30"/>
<rect x="506.84" y="984.22" width="29.68" height="22.71" fill="#ffff38"/>
<rect x="535.72" y="984.22" width="29.68" height="22.71" fill="#ffff48"/>
<rect x="564.60" y="984.22" width="29.68" height="22.71" fill="#ffff68"/>
<rect x="593.48" y="984.22" width="29.68" height="22.71" fill="#ffff68"/>
<rect x="622.36" y="984.22" width="29.68" height="22.71" fill="#ffff89"/>
<rect x="651.24" y="984.22" width="29.68" height="22.71" fill="#ffff91"/>
<rect x="680.12" y="984.22" width="28.88" height="22.71" fill="#ffff80"/>
<rect x="420.20" y="1006.13" width="29.68" height="22.71" fill="#ffff70"/>
<rect x="449.08" y="1006.13" width="29.68" height="22.71" fill="#ffff28"/>
<rect x="477.96" y="1006.13" width="29.68" height="22.71" fill="#ffff18"/>
<rect x="506.84" y="1006.13" width="29.68" height="22.71" fill="#ffff10"/>
<rect x="535.72" y="1006.13" width="29.68" height="22.71" fill="#ffff20"/>
<rect x="564.60" y="1006.13" width="29.68" height="22.71" fill="#ffff40"/>
<rect x="593.48" y="1006.13" width="29.68" height="22.71" fill="#ffff40"/>
<rect x="622.36" y="1006.13" width="29.68" height="22.71" fill="#ffff60"/>
<rect x="651.24" y="1006.13" width="29.68" height="22.71" fill="#ffff68"/>
<rect x="680.12" y="1006.13" width="28.88" height="22.71" fill="#ffff58"/>
<rect x="420.20" y="1028.04" width="29.68" height="22.71" fill="#ffff48"/>
<rect x="449.08" y="1028.04" width="29.68" height="22.71" fill="#ffff08"/>
<rect x="477.96" y="1028.04" width="29.68" height="22.71" fill="#ffff00"/>
<rect x="506.84" y="1028.04" width="29.68" height="22.71" fill="#fffb00"/>
<rect x="535.72" y="1028.04" width="29.68" height="22.71" fill="#ffff00"/>
<rect x="564.60" y="1028.04" width="29.68" height="22.71" fill="#ffff28"/>
<rect x="593.48" y="1028.04" width="29.68" height="22.71" fill="#ffff28"/>
<rect x="622.36" y="1028.04" width="29.68" height="22.71" fill="#ffff40"/>
<rect x="651.24" y="1028.04" width="29.68" height="22.71" fill="#ffff48"/>
<rect x="680.12" y="1028.04" width="28.88" height="22.71" fill="#ffff38"/>
<rect x="420.20" y="1049.95" width="29.68" height="22.71" fill="#ffff48"/>
<rect x="449.08" y="1049.95" width="29.68" height="22.71" fill="#fff200"/>
<rect x="477.96" y="1049.95" width="29.68" height="22.71" fill="#ffee00"/>
<rect x="506.84" y="1049.95" width="29.68" height="22.71" fill="#ffd900"/>
<rect x="535.72" y="1049.95" width="29.68" height="22.71" fill="#ffdc00"/>
<rect x="564.60" y="1049.95" width="29.68" height="22.71" fill="#fffb00"/>
<rect x="593.48" y="1049.95" width="29.68" height="22.71" fill="#ffff00"/>
<rect x="622.36" y="1049.95" width="29.68" height="22.71" fill="#ffff10"/>
<rect x="651.24" y="1049.95" width="29.68" height="22.71" fill="#ffff18"/>
<rect x="680.12" y="1049.95" width="28.88" height="22.71" fill="#ffff0c"/>
<rect x="420.20" y="1071.86" width="29.68" height="22.71" fill="#ffff28"/>
<rect x="449.08" y="1071.86" width="29.68" height="22.71" fill="#ffc400"/>
<rect x="477.96" y="1071.86" width="29.68" height="22.71" fill="#ffc400"/>
<rect x="506.84" y="1071.86" width="29.68" height="22.71" fill="#ffb000"/>
<rect x="535.72" y="1071.86" width="29.68" height="22.71" fill="#ffb400"/>
<rect x="564.60" y="1071.86" width="29.68" height="22.71" fill="#ffc800"/>
<rect x="593.48" y="1071.86" width="29.68" height="22.71" fill="#ffd000"/>
<rect x="622.36" y="1071.86" width="29.68" height="22.71" fill="#ffe000"/>
<rect x="651.24" y="1071.86" width="29.68" height="22.71" fill="#ffdc00"/>
<rect x="680.12" y="1071.86" width="28.88" height="22.71" fill="#ffd000"/>
<rect x="420.20" y="1093.77" width="29.68" height="22.71" fill="#ffff08"/>
<rect x="449.08" y="1093.77" width="29.68" height="22.71" fill="#ff9c00"/>
<rect x="477.96" y="1093.77" width="29.68" height="22.71" fill="#ff9c00"/>
<rect x="506.84" y="1093.77" width="29.68" height="22.71" fill="#ff7800"/>
<rect x="535.72" y="1093.77" width="29.68" height="22.71" fill="#ff8d00"/>
<rect x="564.60" y="1093.77" width="29.68" height="22.71" fill="#ffa400"/>
<rect x="593.48" y="1093.77" width="29.68" height="22.71" fill="#ffa000"/>
<rect x="622.36" y="1093.77" width="29.68" height="22.71" fill="#ffab00"/>
<rect x="651.24" y="1093.77" width="29.68" height="22.71" fill="#ffa800"/>
<rect x="680.12" y="1093.77" width="28.88" height="22.71" fill="#ff9400"/>
<rect x="420.20" y="1115.68" width="29.68" height="22.71" fill="#ffe000"/>
<rect x="449.08" y="1115.68" width="29.68" height="22.71" fill="#ff6100"/>
<rect x="477.96" y="1115.68" width="29.68" height="22.71" fill="#ff4400"/>
<rect x="506.84" y="1115.68" width="29.68" height="22.71" fill="#ff3100"/>
<rect x="535.72" y="1115.68" width="29.68" height="22.71" fill="#ff5400"/>
<rect x="564.60" y="1115.68" width="29.68" height="22.71" fill="#ff7100"/>
<rect x="593.48" y="1115.68" width="29.68" height="22.71" fill="#ff7100"/>
<rect x="622.36" y="1115.68" width="29.68" height="22.71" fill="#ff6500"/>
<rect x="651.24" y="1115.68" width="29.68" height="22.71" fill="#ff6100"/>
<rect x="680.12" y="1115.68" width="28.88" height="22.71" fill="#ff4800"/>
<rect x="420.20" y="1137.59" width="29.68" height="21.91" fill="#ffb400"/>
<rect x="449.08" y="1137.59" width="29.68" height="21.91" fill="#ff1100"/>
<rect x="477.96" y="1137.59" width="29.68" height="21.91" fill="#c90000"/>
<rect x="506.84" y="1137.59" width="29.68" height="21.91" fill="#a70000"/>
<rect x="535.72" y="1137.59" width="29.68" height="21.91" fill="#9f0000"/>
<rect x="564.60" y="1137.59" width="29.68" height="21.91" fill="#7c0000"/>
<rect x="593.48" y="1137.59" width="29.68" height="21.91" fill="#760000"/>
<rect x="622.36" y="1137.59" width="29.68" height="21.91" fill="#680000"/>
<rect x="651.24" y="1137.59" width="29.68" height="21.91" fill="#680000"/>
<rect x="680.12" y="1137.59" width="28.88" height="21.91" fill="#540000"/>
</g>
<text transform="translate(386.55,976.56) scale(1.0217,1.0000)" font-size="13.00" fill="#262626"><tspan font-family="Liberation Sans, sans-serif">0.24</tspan></text>
<text transform="translate(386.55,1020.38) scale(1.0217,1.0000)" font-size="13.00" fill="#262626"><tspan font-family="Liberation Sans, sans-serif">0.18</tspan></text>
<text transform="translate(386.55,1064.20) scale(1.0217,1.0000)" font-size="13.00" fill="#262626"><tspan font-family="Liberation Sans, sans-serif">0.12</tspan></text>
<text transform="translate(386.55,1108.02) scale(1.0217,1.0000)" font-size="13.00" fill="#262626"><tspan font-family="Liberation Sans, sans-serif">0.06</tspan></text>
<text transform="translate(405.00,1151.85) scale(1.0207,1.0000)" font-size="13.00" fill="#262626"><tspan font-family="Liberation Sans, sans-serif">0</tspan></text>
<text transform="translate(425.41,1176.20) scale(1.0222,1.0000)" font-size="13.00" fill="#262626"><tspan font-family="Liberation Sans, sans-serif">0.1</tspan></text>
<text transform="translate(483.17,1176.20) scale(1.0222,1.0000)" font-size="13.00" fill="#262626"><tspan font-family="Liberation Sans, sans-serif">0.3</tspan></text>
<text transform="translate(540.93,1176.20) scale(1.0222,1.0000)" font-size="13.00" fill="#262626"><tspan font-family="Liberation Sans, sans-serif">0.5</tspan></text>
<text transform="translate(598.70,1176.20) scale(1.0222,1.0000)" font-size="13.00" fill="#262626"><tspan font-family="Liberation Sans, sans-serif">0.7</tspan></text>
<text transform="translate(656.46,1176.20) scale(1.0222,1.0000)" font-size="13.00" fill="#262626"><tspan font-family="Liberation Sans, sans-serif">0.9</tspan></text>
<text transform="translate(483.20,1192.10) scale(1.1728,1.0000)" font-size="13.60" fill="#262626"><tspan font-family="Liberation Sans, sans-serif" font-weight="bold">Bright scale factor (</tspan><tspan font-family="Liberation Sans, sans-serif" font-style="italic">b</tspan><tspan font-family="Liberation Sans, sans-serif" font-weight="bold">)</tspan></text>
<text transform="translate(379.10,1103.60) rotate(-90) scale(1.1830,1.0000)" font-size="13.60" fill="#262626"><tspan font-family="Liberation Sans, sans-serif" font-weight="bold">Probability (</tspan><tspan font-family="Liberation Sans, sans-serif" font-style="italic">p</tspan><tspan font-family="Liberation Sans, sans-serif" font-weight="bold">)</tspan></text>
<text transform="translate(423.70,933.40) scale(1.0129,1.0500)" font-size="22.00" fill="#000"><tspan font-family="Liberation Serif, serif">(</tspan><tspan font-family="Liberation Serif, serif" font-weight="bold">h</tspan><tspan font-family="Liberation Serif, serif">) Faster-RCNN ResNet</tspan></text>
<rect x="226.4" y="1221.4" width="388.3" height="20.8" fill="url(#cb)" stroke="#555" stroke-width="0.8"/>
<line x1="226.4" x2="226.4" y1="1242.2" y2="1244.7" stroke="#333" stroke-width="0.8"/>
<text transform="translate(216.30,1256.50) scale(1.0386,1.0000)" font-size="14.00" fill="#000"><tspan font-family="Liberation Sans, sans-serif">0.0</tspan></text>
<line x1="304.1" x2="304.1" y1="1242.2" y2="1244.7" stroke="#333" stroke-width="0.8"/>
<text transform="translate(293.96,1256.50) scale(1.0386,1.0000)" font-size="14.00" fill="#000"><tspan font-family="Liberation Sans, sans-serif">0.1</tspan></text>
<line x1="381.7" x2="381.7" y1="1242.2" y2="1244.7" stroke="#333" stroke-width="0.8"/>
<text transform="translate(371.62,1256.50) scale(1.0386,1.0000)" font-size="14.00" fill="#000"><tspan font-family="Liberation Sans, sans-serif">0.2</tspan></text>
<line x1="459.4" x2="459.4" y1="1242.2" y2="1244.7" stroke="#333" stroke-width="0.8"/>
<text transform="translate(449.28,1256.50) scale(1.0386,1.0000)" font-size="14.00" fill="#000"><tspan font-family="Liberation Sans, sans-serif">0.3</tspan></text>
<line x1="537.0" x2="537.0" y1="1242.2" y2="1244.7" stroke="#333" stroke-width="0.8"/>
<text transform="translate(526.94,1256.50) scale(1.0386,1.0000)" font-size="14.00" fill="#000"><tspan font-family="Liberation Sans, sans-serif">0.4</tspan></text>
<line x1="614.7" x2="614.7" y1="1242.2" y2="1244.7" stroke="#333" stroke-width="0.8"/>
<text transform="translate(604.60,1256.50) scale(1.0386,1.0000)" font-size="14.00" fill="#000"><tspan font-family="Liberation Sans, sans-serif">0.5</tspan></text>
</svg></body></html>
